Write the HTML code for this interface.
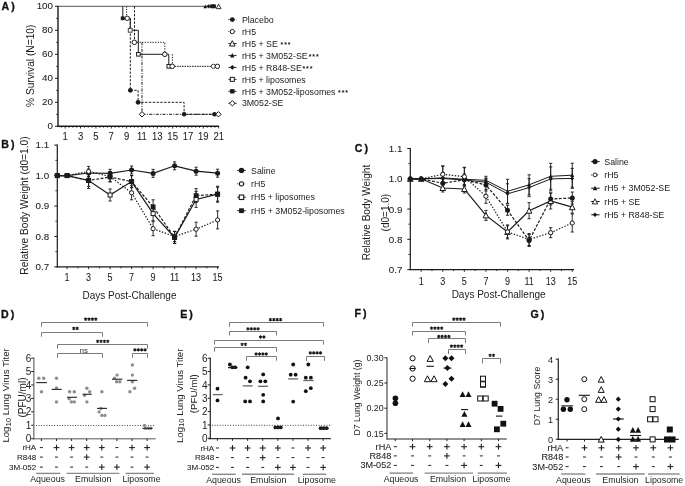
<!DOCTYPE html>
<html><head><meta charset="utf-8"><style>
html,body{margin:0;padding:0;background:#fff;}
svg{display:block;filter:blur(0.35px);}
text{font-family:"Liberation Sans", sans-serif;}
</style></head><body>
<svg width="685" height="486" viewBox="0 0 685 486">
<rect width="685" height="486" fill="#fff"/>
<text x="1.6" y="9.6" font-size="10.6" text-anchor="start" font-weight="bold" fill="#111" stroke="#111" stroke-width="0.3" letter-spacing="2.0">A)</text>
<line x1="58" y1="5.8" x2="58" y2="126.9" stroke="#1a1a1a" stroke-width="1.4" stroke-linecap="butt"/>
<line x1="57.3" y1="126.3" x2="219" y2="126.3" stroke="#1a1a1a" stroke-width="1.4" stroke-linecap="butt"/>
<line x1="55" y1="126.3" x2="58" y2="126.3" stroke="#1a1a1a" stroke-width="1" stroke-linecap="butt"/>
<text transform="translate(53 129.43) scale(1 1)" font-size="9.8" text-anchor="end" fill="#1a1a1a" stroke="#1a1a1a" stroke-width="0.06">0</text>
<line x1="55" y1="102.3" x2="58" y2="102.3" stroke="#1a1a1a" stroke-width="1" stroke-linecap="butt"/>
<text transform="translate(53 105.43) scale(1 1)" font-size="9.8" text-anchor="end" fill="#1a1a1a" stroke="#1a1a1a" stroke-width="0.06">20</text>
<line x1="55" y1="78.3" x2="58" y2="78.3" stroke="#1a1a1a" stroke-width="1" stroke-linecap="butt"/>
<text transform="translate(53 81.43) scale(1 1)" font-size="9.8" text-anchor="end" fill="#1a1a1a" stroke="#1a1a1a" stroke-width="0.06">40</text>
<line x1="55" y1="54.3" x2="58" y2="54.3" stroke="#1a1a1a" stroke-width="1" stroke-linecap="butt"/>
<text transform="translate(53 57.43) scale(1 1)" font-size="9.8" text-anchor="end" fill="#1a1a1a" stroke="#1a1a1a" stroke-width="0.06">60</text>
<line x1="55" y1="30.3" x2="58" y2="30.3" stroke="#1a1a1a" stroke-width="1" stroke-linecap="butt"/>
<text transform="translate(53 33.43) scale(1 1)" font-size="9.8" text-anchor="end" fill="#1a1a1a" stroke="#1a1a1a" stroke-width="0.06">80</text>
<line x1="55" y1="6.3" x2="58" y2="6.3" stroke="#1a1a1a" stroke-width="1" stroke-linecap="butt"/>
<text transform="translate(53 9.43) scale(1 1)" font-size="9.8" text-anchor="end" fill="#1a1a1a" stroke="#1a1a1a" stroke-width="0.06">100</text>
<line x1="56" y1="114.3" x2="58" y2="114.3" stroke="#1a1a1a" stroke-width="0.8" stroke-linecap="butt"/>
<line x1="56" y1="90.3" x2="58" y2="90.3" stroke="#1a1a1a" stroke-width="0.8" stroke-linecap="butt"/>
<line x1="56" y1="66.3" x2="58" y2="66.3" stroke="#1a1a1a" stroke-width="0.8" stroke-linecap="butt"/>
<line x1="56" y1="42.3" x2="58" y2="42.3" stroke="#1a1a1a" stroke-width="0.8" stroke-linecap="butt"/>
<line x1="56" y1="18.3" x2="58" y2="18.3" stroke="#1a1a1a" stroke-width="0.8" stroke-linecap="butt"/>
<line x1="61.36" y1="126.3" x2="61.36" y2="127.7" stroke="#1a1a1a" stroke-width="0.9" stroke-linecap="butt"/>
<line x1="65.2" y1="126.3" x2="65.2" y2="128.5" stroke="#1a1a1a" stroke-width="0.9" stroke-linecap="butt"/>
<line x1="69.04" y1="126.3" x2="69.04" y2="127.7" stroke="#1a1a1a" stroke-width="0.9" stroke-linecap="butt"/>
<line x1="72.88" y1="126.3" x2="72.88" y2="127.7" stroke="#1a1a1a" stroke-width="0.9" stroke-linecap="butt"/>
<line x1="76.71" y1="126.3" x2="76.71" y2="127.7" stroke="#1a1a1a" stroke-width="0.9" stroke-linecap="butt"/>
<line x1="80.55" y1="126.3" x2="80.55" y2="128.5" stroke="#1a1a1a" stroke-width="0.9" stroke-linecap="butt"/>
<line x1="84.39" y1="126.3" x2="84.39" y2="127.7" stroke="#1a1a1a" stroke-width="0.9" stroke-linecap="butt"/>
<line x1="88.22" y1="126.3" x2="88.22" y2="127.7" stroke="#1a1a1a" stroke-width="0.9" stroke-linecap="butt"/>
<line x1="92.06" y1="126.3" x2="92.06" y2="127.7" stroke="#1a1a1a" stroke-width="0.9" stroke-linecap="butt"/>
<line x1="95.9" y1="126.3" x2="95.9" y2="128.5" stroke="#1a1a1a" stroke-width="0.9" stroke-linecap="butt"/>
<line x1="99.74" y1="126.3" x2="99.74" y2="127.7" stroke="#1a1a1a" stroke-width="0.9" stroke-linecap="butt"/>
<line x1="103.58" y1="126.3" x2="103.58" y2="127.7" stroke="#1a1a1a" stroke-width="0.9" stroke-linecap="butt"/>
<line x1="107.41" y1="126.3" x2="107.41" y2="127.7" stroke="#1a1a1a" stroke-width="0.9" stroke-linecap="butt"/>
<line x1="111.25" y1="126.3" x2="111.25" y2="128.5" stroke="#1a1a1a" stroke-width="0.9" stroke-linecap="butt"/>
<line x1="115.09" y1="126.3" x2="115.09" y2="127.7" stroke="#1a1a1a" stroke-width="0.9" stroke-linecap="butt"/>
<line x1="118.93" y1="126.3" x2="118.93" y2="127.7" stroke="#1a1a1a" stroke-width="0.9" stroke-linecap="butt"/>
<line x1="122.76" y1="126.3" x2="122.76" y2="127.7" stroke="#1a1a1a" stroke-width="0.9" stroke-linecap="butt"/>
<line x1="126.6" y1="126.3" x2="126.6" y2="128.5" stroke="#1a1a1a" stroke-width="0.9" stroke-linecap="butt"/>
<line x1="130.44" y1="126.3" x2="130.44" y2="127.7" stroke="#1a1a1a" stroke-width="0.9" stroke-linecap="butt"/>
<line x1="134.28" y1="126.3" x2="134.28" y2="127.7" stroke="#1a1a1a" stroke-width="0.9" stroke-linecap="butt"/>
<line x1="138.11" y1="126.3" x2="138.11" y2="127.7" stroke="#1a1a1a" stroke-width="0.9" stroke-linecap="butt"/>
<line x1="141.95" y1="126.3" x2="141.95" y2="128.5" stroke="#1a1a1a" stroke-width="0.9" stroke-linecap="butt"/>
<line x1="145.79" y1="126.3" x2="145.79" y2="127.7" stroke="#1a1a1a" stroke-width="0.9" stroke-linecap="butt"/>
<line x1="149.62" y1="126.3" x2="149.62" y2="127.7" stroke="#1a1a1a" stroke-width="0.9" stroke-linecap="butt"/>
<line x1="153.46" y1="126.3" x2="153.46" y2="127.7" stroke="#1a1a1a" stroke-width="0.9" stroke-linecap="butt"/>
<line x1="157.3" y1="126.3" x2="157.3" y2="128.5" stroke="#1a1a1a" stroke-width="0.9" stroke-linecap="butt"/>
<line x1="161.14" y1="126.3" x2="161.14" y2="127.7" stroke="#1a1a1a" stroke-width="0.9" stroke-linecap="butt"/>
<line x1="164.97" y1="126.3" x2="164.97" y2="127.7" stroke="#1a1a1a" stroke-width="0.9" stroke-linecap="butt"/>
<line x1="168.81" y1="126.3" x2="168.81" y2="127.7" stroke="#1a1a1a" stroke-width="0.9" stroke-linecap="butt"/>
<line x1="172.65" y1="126.3" x2="172.65" y2="128.5" stroke="#1a1a1a" stroke-width="0.9" stroke-linecap="butt"/>
<line x1="176.49" y1="126.3" x2="176.49" y2="127.7" stroke="#1a1a1a" stroke-width="0.9" stroke-linecap="butt"/>
<line x1="180.32" y1="126.3" x2="180.32" y2="127.7" stroke="#1a1a1a" stroke-width="0.9" stroke-linecap="butt"/>
<line x1="184.16" y1="126.3" x2="184.16" y2="127.7" stroke="#1a1a1a" stroke-width="0.9" stroke-linecap="butt"/>
<line x1="188" y1="126.3" x2="188" y2="128.5" stroke="#1a1a1a" stroke-width="0.9" stroke-linecap="butt"/>
<line x1="191.84" y1="126.3" x2="191.84" y2="127.7" stroke="#1a1a1a" stroke-width="0.9" stroke-linecap="butt"/>
<line x1="195.68" y1="126.3" x2="195.68" y2="127.7" stroke="#1a1a1a" stroke-width="0.9" stroke-linecap="butt"/>
<line x1="199.51" y1="126.3" x2="199.51" y2="127.7" stroke="#1a1a1a" stroke-width="0.9" stroke-linecap="butt"/>
<line x1="203.35" y1="126.3" x2="203.35" y2="128.5" stroke="#1a1a1a" stroke-width="0.9" stroke-linecap="butt"/>
<line x1="207.19" y1="126.3" x2="207.19" y2="127.7" stroke="#1a1a1a" stroke-width="0.9" stroke-linecap="butt"/>
<line x1="211.02" y1="126.3" x2="211.02" y2="127.7" stroke="#1a1a1a" stroke-width="0.9" stroke-linecap="butt"/>
<line x1="214.86" y1="126.3" x2="214.86" y2="127.7" stroke="#1a1a1a" stroke-width="0.9" stroke-linecap="butt"/>
<line x1="218.7" y1="126.3" x2="218.7" y2="128.5" stroke="#1a1a1a" stroke-width="0.9" stroke-linecap="butt"/>
<text transform="translate(65.2 139.8) scale(0.95 1)" font-size="10" text-anchor="middle" fill="#1a1a1a" stroke="#1a1a1a" stroke-width="0.06">1</text>
<text transform="translate(80.55 139.8) scale(0.95 1)" font-size="10" text-anchor="middle" fill="#1a1a1a" stroke="#1a1a1a" stroke-width="0.06">3</text>
<text transform="translate(95.9 139.8) scale(0.95 1)" font-size="10" text-anchor="middle" fill="#1a1a1a" stroke="#1a1a1a" stroke-width="0.06">5</text>
<text transform="translate(111.25 139.8) scale(0.95 1)" font-size="10" text-anchor="middle" fill="#1a1a1a" stroke="#1a1a1a" stroke-width="0.06">7</text>
<text transform="translate(126.6 139.8) scale(0.95 1)" font-size="10" text-anchor="middle" fill="#1a1a1a" stroke="#1a1a1a" stroke-width="0.06">9</text>
<text transform="translate(141.95 139.8) scale(0.95 1)" font-size="10" text-anchor="middle" fill="#1a1a1a" stroke="#1a1a1a" stroke-width="0.06">11</text>
<text transform="translate(157.3 139.8) scale(0.95 1)" font-size="10" text-anchor="middle" fill="#1a1a1a" stroke="#1a1a1a" stroke-width="0.06">13</text>
<text transform="translate(172.65 139.8) scale(0.95 1)" font-size="10" text-anchor="middle" fill="#1a1a1a" stroke="#1a1a1a" stroke-width="0.06">15</text>
<text transform="translate(188 139.8) scale(0.95 1)" font-size="10" text-anchor="middle" fill="#1a1a1a" stroke="#1a1a1a" stroke-width="0.06">17</text>
<text transform="translate(203.35 139.8) scale(0.95 1)" font-size="10" text-anchor="middle" fill="#1a1a1a" stroke="#1a1a1a" stroke-width="0.06">19</text>
<text transform="translate(218.7 139.8) scale(0.95 1)" font-size="10" text-anchor="middle" fill="#1a1a1a" stroke="#1a1a1a" stroke-width="0.06">21</text>
<text x="34.2" y="65.8" font-size="10.2" text-anchor="middle" font-weight="normal" fill="#1a1a1a" stroke="#1a1a1a" stroke-width="0" transform="rotate(-90 34.2 65.8)">% Survival (N=10)</text>
<line x1="58" y1="6.3" x2="216" y2="6.3" stroke="#444" stroke-width="0.9" stroke-linecap="butt"/>
<polyline points="122.8,6.3 122.8,18.3 130.2,18.3 130.2,30.3 138.3,30.3 138.3,54.3 168.8,54.3 168.8,66.3 172,66.3" fill="none" stroke="#1a1a1a" stroke-width="1" stroke-linejoin="miter"/>
<line x1="172" y1="66.3" x2="214" y2="66.3" stroke="#1a1a1a" stroke-width="1" stroke-dasharray="1.6 0.9" stroke-linecap="butt"/>
<polyline points="126.6,6.3 126.6,18.3" fill="none" stroke="#1a1a1a" stroke-width="1" stroke-dasharray="1.3 1.3" stroke-linejoin="miter"/>
<polyline points="134.3,42.3 164.8,42.3 164.8,54.3" fill="none" stroke="#1a1a1a" stroke-width="1" stroke-dasharray="1.3 1.3" stroke-linejoin="miter"/>
<polyline points="172.4,54.3 172.4,66.3" fill="none" stroke="#1a1a1a" stroke-width="1" stroke-dasharray="1.3 1.3" stroke-linejoin="miter"/>
<polyline points="134.5,6.3 134.5,42.3" fill="none" stroke="#1a1a1a" stroke-width="1" stroke-dasharray="2.4 1.4" stroke-linejoin="miter"/>
<polyline points="130.3,18.3 130.3,90.3 138.1,90.3 138.1,102.3 184.1,102.3 184.1,114.3 214.5,114.3" fill="none" stroke="#1a1a1a" stroke-width="1" stroke-dasharray="2.4 1.4" stroke-linejoin="miter"/>
<polyline points="142,42.3 142,114.3 218,114.3" fill="none" stroke="#1a1a1a" stroke-width="1" stroke-dasharray="3 1.3 1 1.3" stroke-linejoin="miter"/>
<rect x="120.8" y="16.4" width="3.8" height="3.8" fill="#1a1a1a"/>
<circle cx="127.2" cy="18.3" r="2.2" fill="#fff" stroke="#1a1a1a" stroke-width="1"/>
<rect x="128.3" y="28.4" width="3.8" height="3.8" fill="#fff" stroke="#444" stroke-width="1"/>
<circle cx="134.3" cy="42.3" r="2.3" fill="#fff" stroke="#1a1a1a" stroke-width="1"/>
<rect x="136.6" y="52.5" width="3.6" height="3.6" fill="#fff" stroke="#1a1a1a" stroke-width="1"/>
<circle cx="164.8" cy="54.3" r="2.3" fill="#fff" stroke="#1a1a1a" stroke-width="1"/>
<rect x="167" y="64.5" width="3.6" height="3.6" fill="#fff" stroke="#1a1a1a" stroke-width="1"/>
<circle cx="172.2" cy="66.3" r="2.3" fill="#fff" stroke="#1a1a1a" stroke-width="1"/>
<circle cx="213.4" cy="66.3" r="2.1" fill="#fff" stroke="#444" stroke-width="1"/>
<circle cx="217.4" cy="66.3" r="2.2" fill="#fff" stroke="#1a1a1a" stroke-width="1"/>
<circle cx="130.4" cy="90.3" r="2.4" fill="#1a1a1a"/>
<circle cx="138.1" cy="102.3" r="2.4" fill="#1a1a1a"/>
<circle cx="184.1" cy="114.3" r="2.3" fill="#1a1a1a"/>
<circle cx="214.5" cy="114.3" r="2.3" fill="#1a1a1a"/>
<polygon points="142,111.6 144.7,114.3 142,117 139.3,114.3" fill="#fff" stroke="#1a1a1a" stroke-width="1"/>
<polygon points="218.5,111.6 221.2,114.3 218.5,117 215.8,114.3" fill="#fff" stroke="#1a1a1a" stroke-width="1"/>
<polygon points="205.3,4.49 203.4,8.21 207.2,8.21" fill="#1a1a1a"/>
<polygon points="208.6,4.2 210.7,6.3 208.6,8.4 206.5,6.3" fill="#1a1a1a"/>
<rect x="210.1" y="4.4" width="3.8" height="3.8" fill="#1a1a1a"/>
<rect x="212.1" y="4.4" width="3.8" height="3.8" fill="#1a1a1a"/>
<polygon points="218.6,4.04 216.2,8.66 221,8.66" fill="#fff" stroke="#1a1a1a" stroke-width="0.9" stroke-linejoin="miter"/>
<line x1="228.4" y1="19.6" x2="236.6" y2="19.6" stroke="#1a1a1a" stroke-width="0.9" stroke-dasharray="1.3 1.3" stroke-linecap="butt"/>
<circle cx="232.3" cy="19.6" r="2.4" fill="#1a1a1a"/>
<text x="241.9" y="22.8" font-size="8.8" text-anchor="start" font-weight="normal" fill="#1a1a1a" stroke="#1a1a1a" stroke-width="0">Placebo</text>
<line x1="228.4" y1="31.55" x2="236.6" y2="31.55" stroke="#1a1a1a" stroke-width="0.9" stroke-dasharray="1 2" stroke-linecap="butt"/>
<circle cx="232.3" cy="31.55" r="2.1" fill="#fff" stroke="#1a1a1a" stroke-width="1"/>
<text x="241.9" y="34.75" font-size="8.8" text-anchor="start" font-weight="normal" fill="#1a1a1a" stroke="#1a1a1a" stroke-width="0">rH5</text>
<line x1="228.4" y1="43.5" x2="236.6" y2="43.5" stroke="#1a1a1a" stroke-width="0.9" stroke-linecap="butt"/>
<polygon points="232.3,40.68 229.5,46.02 235.1,46.02" fill="#fff" stroke="#1a1a1a" stroke-width="1" stroke-linejoin="miter"/>
<text x="241.9" y="46.7" font-size="8.8" text-anchor="start" font-weight="normal" fill="#1a1a1a" stroke="#1a1a1a" stroke-width="0">rH5 + SE</text>
<text x="280.6" y="46.7" font-size="7" font-weight="bold" fill="#1a1a1a" letter-spacing="0.9">***</text>
<line x1="228.4" y1="55.45" x2="236.6" y2="55.45" stroke="#1a1a1a" stroke-width="0.9" stroke-linecap="butt"/>
<polygon points="232.3,53.08 230,57.52 234.6,57.52" fill="#1a1a1a"/>
<text x="241.9" y="58.65" font-size="8.8" text-anchor="start" font-weight="normal" fill="#1a1a1a" stroke="#1a1a1a" stroke-width="0">rH5 + 3M052-SE</text>
<text x="308.7" y="58.65" font-size="7" font-weight="bold" fill="#1a1a1a" letter-spacing="0.9">***</text>
<line x1="228.4" y1="67.4" x2="236.6" y2="67.4" stroke="#1a1a1a" stroke-width="0.9" stroke-linecap="butt"/>
<polygon points="232.3,65 234.7,67.4 232.3,69.8 229.9,67.4" fill="#1a1a1a"/>
<text x="241.9" y="70.6" font-size="8.8" text-anchor="start" font-weight="normal" fill="#1a1a1a" stroke="#1a1a1a" stroke-width="0">rH5 + R848-SE</text>
<text x="302.4" y="70.6" font-size="7" font-weight="bold" fill="#1a1a1a" letter-spacing="0.9">***</text>
<line x1="228.4" y1="79.35" x2="236.6" y2="79.35" stroke="#1a1a1a" stroke-width="0.9" stroke-linecap="butt"/>
<rect x="230.3" y="77.35" width="4" height="4" fill="#fff" stroke="#1a1a1a" stroke-width="1"/>
<text x="241.9" y="82.55" font-size="8.8" text-anchor="start" font-weight="normal" fill="#1a1a1a" stroke="#1a1a1a" stroke-width="0">rH5 + liposomes</text>
<line x1="228.4" y1="91.3" x2="236.6" y2="91.3" stroke="#1a1a1a" stroke-width="0.9" stroke-linecap="butt"/>
<rect x="230.1" y="89.1" width="4.4" height="4.4" fill="#1a1a1a"/>
<text x="241.9" y="94.5" font-size="8.8" text-anchor="start" font-weight="normal" fill="#1a1a1a" stroke="#1a1a1a" stroke-width="0">rH5 + 3M052-liposomes</text>
<text x="338.1" y="94.5" font-size="7" font-weight="bold" fill="#1a1a1a" letter-spacing="0.9">***</text>
<line x1="228.4" y1="103.25" x2="236.6" y2="103.25" stroke="#1a1a1a" stroke-width="0.9" stroke-linecap="butt"/>
<polygon points="232.3,100.55 235,103.25 232.3,105.95 229.6,103.25" fill="#fff" stroke="#1a1a1a" stroke-width="1"/>
<text x="241.9" y="106.45" font-size="8.8" text-anchor="start" font-weight="normal" fill="#1a1a1a" stroke="#1a1a1a" stroke-width="0">3M052-SE</text>
<text x="1.3" y="148.1" font-size="10.6" text-anchor="start" font-weight="bold" fill="#111" stroke="#111" stroke-width="0.3" letter-spacing="2.0">B)</text>
<line x1="57.3" y1="144.6" x2="57.3" y2="267.5" stroke="#1a1a1a" stroke-width="1.2" stroke-linecap="butt"/>
<line x1="56.7" y1="266.9" x2="219" y2="266.9" stroke="#1a1a1a" stroke-width="1.2" stroke-linecap="butt"/>
<line x1="54.3" y1="266.9" x2="57.3" y2="266.9" stroke="#1a1a1a" stroke-width="1" stroke-linecap="butt"/>
<text transform="translate(49.2 270.23) scale(1 1)" font-size="9.8" text-anchor="end" fill="#1a1a1a" stroke="#1a1a1a" stroke-width="0.06">0.7</text>
<line x1="54.3" y1="236.45" x2="57.3" y2="236.45" stroke="#1a1a1a" stroke-width="1" stroke-linecap="butt"/>
<text transform="translate(49.2 239.78) scale(1 1)" font-size="9.8" text-anchor="end" fill="#1a1a1a" stroke="#1a1a1a" stroke-width="0.06">0.8</text>
<line x1="54.3" y1="206" x2="57.3" y2="206" stroke="#1a1a1a" stroke-width="1" stroke-linecap="butt"/>
<text transform="translate(49.2 209.33) scale(1 1)" font-size="9.8" text-anchor="end" fill="#1a1a1a" stroke="#1a1a1a" stroke-width="0.06">0.9</text>
<line x1="54.3" y1="175.55" x2="57.3" y2="175.55" stroke="#1a1a1a" stroke-width="1" stroke-linecap="butt"/>
<text transform="translate(49.2 178.88) scale(1 1)" font-size="9.8" text-anchor="end" fill="#1a1a1a" stroke="#1a1a1a" stroke-width="0.06">1.0</text>
<line x1="54.3" y1="145.1" x2="57.3" y2="145.1" stroke="#1a1a1a" stroke-width="1" stroke-linecap="butt"/>
<text transform="translate(49.2 148.43) scale(1 1)" font-size="9.8" text-anchor="end" fill="#1a1a1a" stroke="#1a1a1a" stroke-width="0.06">1.1</text>
<line x1="55.3" y1="251.67" x2="57.3" y2="251.67" stroke="#1a1a1a" stroke-width="0.8" stroke-linecap="butt"/>
<line x1="55.3" y1="221.22" x2="57.3" y2="221.22" stroke="#1a1a1a" stroke-width="0.8" stroke-linecap="butt"/>
<line x1="55.3" y1="190.77" x2="57.3" y2="190.77" stroke="#1a1a1a" stroke-width="0.8" stroke-linecap="butt"/>
<line x1="55.3" y1="160.32" x2="57.3" y2="160.32" stroke="#1a1a1a" stroke-width="0.8" stroke-linecap="butt"/>
<line x1="67.1" y1="266.9" x2="67.1" y2="269.1" stroke="#1a1a1a" stroke-width="0.9" stroke-linecap="butt"/>
<line x1="77.85" y1="266.9" x2="77.85" y2="268.3" stroke="#1a1a1a" stroke-width="0.9" stroke-linecap="butt"/>
<line x1="88.6" y1="266.9" x2="88.6" y2="269.1" stroke="#1a1a1a" stroke-width="0.9" stroke-linecap="butt"/>
<line x1="99.35" y1="266.9" x2="99.35" y2="268.3" stroke="#1a1a1a" stroke-width="0.9" stroke-linecap="butt"/>
<line x1="110.1" y1="266.9" x2="110.1" y2="269.1" stroke="#1a1a1a" stroke-width="0.9" stroke-linecap="butt"/>
<line x1="120.85" y1="266.9" x2="120.85" y2="268.3" stroke="#1a1a1a" stroke-width="0.9" stroke-linecap="butt"/>
<line x1="131.6" y1="266.9" x2="131.6" y2="269.1" stroke="#1a1a1a" stroke-width="0.9" stroke-linecap="butt"/>
<line x1="142.35" y1="266.9" x2="142.35" y2="268.3" stroke="#1a1a1a" stroke-width="0.9" stroke-linecap="butt"/>
<line x1="153.1" y1="266.9" x2="153.1" y2="269.1" stroke="#1a1a1a" stroke-width="0.9" stroke-linecap="butt"/>
<line x1="163.85" y1="266.9" x2="163.85" y2="268.3" stroke="#1a1a1a" stroke-width="0.9" stroke-linecap="butt"/>
<line x1="174.6" y1="266.9" x2="174.6" y2="269.1" stroke="#1a1a1a" stroke-width="0.9" stroke-linecap="butt"/>
<line x1="185.35" y1="266.9" x2="185.35" y2="268.3" stroke="#1a1a1a" stroke-width="0.9" stroke-linecap="butt"/>
<line x1="196.1" y1="266.9" x2="196.1" y2="269.1" stroke="#1a1a1a" stroke-width="0.9" stroke-linecap="butt"/>
<line x1="206.85" y1="266.9" x2="206.85" y2="268.3" stroke="#1a1a1a" stroke-width="0.9" stroke-linecap="butt"/>
<line x1="217.6" y1="266.9" x2="217.6" y2="269.1" stroke="#1a1a1a" stroke-width="0.9" stroke-linecap="butt"/>
<text transform="translate(67.1 281) scale(0.9 1)" font-size="10" text-anchor="middle" fill="#1a1a1a" stroke="#1a1a1a" stroke-width="0.06">1</text>
<text transform="translate(88.6 281) scale(0.9 1)" font-size="10" text-anchor="middle" fill="#1a1a1a" stroke="#1a1a1a" stroke-width="0.06">3</text>
<text transform="translate(110.1 281) scale(0.9 1)" font-size="10" text-anchor="middle" fill="#1a1a1a" stroke="#1a1a1a" stroke-width="0.06">5</text>
<text transform="translate(131.6 281) scale(0.9 1)" font-size="10" text-anchor="middle" fill="#1a1a1a" stroke="#1a1a1a" stroke-width="0.06">7</text>
<text transform="translate(153.1 281) scale(0.9 1)" font-size="10" text-anchor="middle" fill="#1a1a1a" stroke="#1a1a1a" stroke-width="0.06">9</text>
<text transform="translate(174.6 281) scale(0.9 1)" font-size="10" text-anchor="middle" fill="#1a1a1a" stroke="#1a1a1a" stroke-width="0.06">11</text>
<text transform="translate(196.1 281) scale(0.9 1)" font-size="10" text-anchor="middle" fill="#1a1a1a" stroke="#1a1a1a" stroke-width="0.06">13</text>
<text transform="translate(217.6 281) scale(0.9 1)" font-size="10" text-anchor="middle" fill="#1a1a1a" stroke="#1a1a1a" stroke-width="0.06">15</text>
<text x="129.5" y="298.8" font-size="10" text-anchor="middle" font-weight="normal" fill="#1a1a1a" stroke="#1a1a1a" stroke-width="0">Days Post-Challenge</text>
<text x="28" y="205.5" font-size="10.2" text-anchor="middle" font-weight="normal" fill="#1a1a1a" stroke="#1a1a1a" stroke-width="0" transform="rotate(-90 28 205.5)">Relative Body Weight (d0=1.0)</text>
<line x1="88.6" y1="169" x2="88.6" y2="177" stroke="#1a1a1a" stroke-width="0.9" stroke-linecap="butt"/>
<line x1="87" y1="169" x2="90.2" y2="169" stroke="#1a1a1a" stroke-width="0.9" stroke-linecap="butt"/>
<line x1="87" y1="177" x2="90.2" y2="177" stroke="#1a1a1a" stroke-width="0.9" stroke-linecap="butt"/>
<line x1="110.1" y1="169.3" x2="110.1" y2="177.3" stroke="#1a1a1a" stroke-width="0.9" stroke-linecap="butt"/>
<line x1="108.5" y1="169.3" x2="111.7" y2="169.3" stroke="#1a1a1a" stroke-width="0.9" stroke-linecap="butt"/>
<line x1="108.5" y1="177.3" x2="111.7" y2="177.3" stroke="#1a1a1a" stroke-width="0.9" stroke-linecap="butt"/>
<line x1="131.6" y1="166" x2="131.6" y2="174" stroke="#1a1a1a" stroke-width="0.9" stroke-linecap="butt"/>
<line x1="130" y1="166" x2="133.2" y2="166" stroke="#1a1a1a" stroke-width="0.9" stroke-linecap="butt"/>
<line x1="130" y1="174" x2="133.2" y2="174" stroke="#1a1a1a" stroke-width="0.9" stroke-linecap="butt"/>
<line x1="153.1" y1="169.4" x2="153.1" y2="177.4" stroke="#1a1a1a" stroke-width="0.9" stroke-linecap="butt"/>
<line x1="151.5" y1="169.4" x2="154.7" y2="169.4" stroke="#1a1a1a" stroke-width="0.9" stroke-linecap="butt"/>
<line x1="151.5" y1="177.4" x2="154.7" y2="177.4" stroke="#1a1a1a" stroke-width="0.9" stroke-linecap="butt"/>
<line x1="174.6" y1="161.8" x2="174.6" y2="169.8" stroke="#1a1a1a" stroke-width="0.9" stroke-linecap="butt"/>
<line x1="173" y1="161.8" x2="176.2" y2="161.8" stroke="#1a1a1a" stroke-width="0.9" stroke-linecap="butt"/>
<line x1="173" y1="169.8" x2="176.2" y2="169.8" stroke="#1a1a1a" stroke-width="0.9" stroke-linecap="butt"/>
<line x1="196.1" y1="167.2" x2="196.1" y2="175.2" stroke="#1a1a1a" stroke-width="0.9" stroke-linecap="butt"/>
<line x1="194.5" y1="167.2" x2="197.7" y2="167.2" stroke="#1a1a1a" stroke-width="0.9" stroke-linecap="butt"/>
<line x1="194.5" y1="175.2" x2="197.7" y2="175.2" stroke="#1a1a1a" stroke-width="0.9" stroke-linecap="butt"/>
<line x1="217.6" y1="169.2" x2="217.6" y2="177.2" stroke="#1a1a1a" stroke-width="0.9" stroke-linecap="butt"/>
<line x1="216" y1="169.2" x2="219.2" y2="169.2" stroke="#1a1a1a" stroke-width="0.9" stroke-linecap="butt"/>
<line x1="216" y1="177.2" x2="219.2" y2="177.2" stroke="#1a1a1a" stroke-width="0.9" stroke-linecap="butt"/>
<line x1="88.6" y1="166.4" x2="88.6" y2="176.4" stroke="#1a1a1a" stroke-width="0.9" stroke-linecap="butt"/>
<line x1="87" y1="166.4" x2="90.2" y2="166.4" stroke="#1a1a1a" stroke-width="0.9" stroke-linecap="butt"/>
<line x1="87" y1="176.4" x2="90.2" y2="176.4" stroke="#1a1a1a" stroke-width="0.9" stroke-linecap="butt"/>
<line x1="110.1" y1="171.5" x2="110.1" y2="181.5" stroke="#1a1a1a" stroke-width="0.9" stroke-linecap="butt"/>
<line x1="108.5" y1="171.5" x2="111.7" y2="171.5" stroke="#1a1a1a" stroke-width="0.9" stroke-linecap="butt"/>
<line x1="108.5" y1="181.5" x2="111.7" y2="181.5" stroke="#1a1a1a" stroke-width="0.9" stroke-linecap="butt"/>
<line x1="131.6" y1="185.8" x2="131.6" y2="199.8" stroke="#1a1a1a" stroke-width="0.9" stroke-linecap="butt"/>
<line x1="130" y1="185.8" x2="133.2" y2="185.8" stroke="#1a1a1a" stroke-width="0.9" stroke-linecap="butt"/>
<line x1="130" y1="199.8" x2="133.2" y2="199.8" stroke="#1a1a1a" stroke-width="0.9" stroke-linecap="butt"/>
<line x1="153.1" y1="221.7" x2="153.1" y2="235.7" stroke="#1a1a1a" stroke-width="0.9" stroke-linecap="butt"/>
<line x1="151.5" y1="221.7" x2="154.7" y2="221.7" stroke="#1a1a1a" stroke-width="0.9" stroke-linecap="butt"/>
<line x1="151.5" y1="235.7" x2="154.7" y2="235.7" stroke="#1a1a1a" stroke-width="0.9" stroke-linecap="butt"/>
<line x1="174.6" y1="231.5" x2="174.6" y2="241.5" stroke="#1a1a1a" stroke-width="0.9" stroke-linecap="butt"/>
<line x1="173" y1="231.5" x2="176.2" y2="231.5" stroke="#1a1a1a" stroke-width="0.9" stroke-linecap="butt"/>
<line x1="173" y1="241.5" x2="176.2" y2="241.5" stroke="#1a1a1a" stroke-width="0.9" stroke-linecap="butt"/>
<line x1="196.1" y1="222.2" x2="196.1" y2="236.2" stroke="#1a1a1a" stroke-width="0.9" stroke-linecap="butt"/>
<line x1="194.5" y1="222.2" x2="197.7" y2="222.2" stroke="#1a1a1a" stroke-width="0.9" stroke-linecap="butt"/>
<line x1="194.5" y1="236.2" x2="197.7" y2="236.2" stroke="#1a1a1a" stroke-width="0.9" stroke-linecap="butt"/>
<line x1="217.6" y1="210.9" x2="217.6" y2="228.9" stroke="#1a1a1a" stroke-width="0.9" stroke-linecap="butt"/>
<line x1="216" y1="210.9" x2="219.2" y2="210.9" stroke="#1a1a1a" stroke-width="0.9" stroke-linecap="butt"/>
<line x1="216" y1="228.9" x2="219.2" y2="228.9" stroke="#1a1a1a" stroke-width="0.9" stroke-linecap="butt"/>
<line x1="88.6" y1="172.5" x2="88.6" y2="188.5" stroke="#1a1a1a" stroke-width="0.9" stroke-linecap="butt"/>
<line x1="87" y1="172.5" x2="90.2" y2="172.5" stroke="#1a1a1a" stroke-width="0.9" stroke-linecap="butt"/>
<line x1="87" y1="188.5" x2="90.2" y2="188.5" stroke="#1a1a1a" stroke-width="0.9" stroke-linecap="butt"/>
<line x1="110.1" y1="189" x2="110.1" y2="201" stroke="#1a1a1a" stroke-width="0.9" stroke-linecap="butt"/>
<line x1="108.5" y1="189" x2="111.7" y2="189" stroke="#1a1a1a" stroke-width="0.9" stroke-linecap="butt"/>
<line x1="108.5" y1="201" x2="111.7" y2="201" stroke="#1a1a1a" stroke-width="0.9" stroke-linecap="butt"/>
<line x1="131.6" y1="175.6" x2="131.6" y2="187.6" stroke="#1a1a1a" stroke-width="0.9" stroke-linecap="butt"/>
<line x1="130" y1="175.6" x2="133.2" y2="175.6" stroke="#1a1a1a" stroke-width="0.9" stroke-linecap="butt"/>
<line x1="130" y1="187.6" x2="133.2" y2="187.6" stroke="#1a1a1a" stroke-width="0.9" stroke-linecap="butt"/>
<line x1="153.1" y1="206.6" x2="153.1" y2="220.6" stroke="#1a1a1a" stroke-width="0.9" stroke-linecap="butt"/>
<line x1="151.5" y1="206.6" x2="154.7" y2="206.6" stroke="#1a1a1a" stroke-width="0.9" stroke-linecap="butt"/>
<line x1="151.5" y1="220.6" x2="154.7" y2="220.6" stroke="#1a1a1a" stroke-width="0.9" stroke-linecap="butt"/>
<line x1="174.6" y1="231.4" x2="174.6" y2="243.4" stroke="#1a1a1a" stroke-width="0.9" stroke-linecap="butt"/>
<line x1="173" y1="231.4" x2="176.2" y2="231.4" stroke="#1a1a1a" stroke-width="0.9" stroke-linecap="butt"/>
<line x1="173" y1="243.4" x2="176.2" y2="243.4" stroke="#1a1a1a" stroke-width="0.9" stroke-linecap="butt"/>
<line x1="196.1" y1="191.4" x2="196.1" y2="207.4" stroke="#1a1a1a" stroke-width="0.9" stroke-linecap="butt"/>
<line x1="194.5" y1="191.4" x2="197.7" y2="191.4" stroke="#1a1a1a" stroke-width="0.9" stroke-linecap="butt"/>
<line x1="194.5" y1="207.4" x2="197.7" y2="207.4" stroke="#1a1a1a" stroke-width="0.9" stroke-linecap="butt"/>
<line x1="217.6" y1="186.2" x2="217.6" y2="202.2" stroke="#1a1a1a" stroke-width="0.9" stroke-linecap="butt"/>
<line x1="216" y1="186.2" x2="219.2" y2="186.2" stroke="#1a1a1a" stroke-width="0.9" stroke-linecap="butt"/>
<line x1="216" y1="202.2" x2="219.2" y2="202.2" stroke="#1a1a1a" stroke-width="0.9" stroke-linecap="butt"/>
<line x1="88.6" y1="174.5" x2="88.6" y2="186.5" stroke="#1a1a1a" stroke-width="0.9" stroke-linecap="butt"/>
<line x1="87" y1="174.5" x2="90.2" y2="174.5" stroke="#1a1a1a" stroke-width="0.9" stroke-linecap="butt"/>
<line x1="87" y1="186.5" x2="90.2" y2="186.5" stroke="#1a1a1a" stroke-width="0.9" stroke-linecap="butt"/>
<line x1="110.1" y1="172" x2="110.1" y2="182" stroke="#1a1a1a" stroke-width="0.9" stroke-linecap="butt"/>
<line x1="108.5" y1="172" x2="111.7" y2="172" stroke="#1a1a1a" stroke-width="0.9" stroke-linecap="butt"/>
<line x1="108.5" y1="182" x2="111.7" y2="182" stroke="#1a1a1a" stroke-width="0.9" stroke-linecap="butt"/>
<line x1="131.6" y1="175.6" x2="131.6" y2="187.6" stroke="#1a1a1a" stroke-width="0.9" stroke-linecap="butt"/>
<line x1="130" y1="175.6" x2="133.2" y2="175.6" stroke="#1a1a1a" stroke-width="0.9" stroke-linecap="butt"/>
<line x1="130" y1="187.6" x2="133.2" y2="187.6" stroke="#1a1a1a" stroke-width="0.9" stroke-linecap="butt"/>
<line x1="153.1" y1="199.8" x2="153.1" y2="213.8" stroke="#1a1a1a" stroke-width="0.9" stroke-linecap="butt"/>
<line x1="151.5" y1="199.8" x2="154.7" y2="199.8" stroke="#1a1a1a" stroke-width="0.9" stroke-linecap="butt"/>
<line x1="151.5" y1="213.8" x2="154.7" y2="213.8" stroke="#1a1a1a" stroke-width="0.9" stroke-linecap="butt"/>
<line x1="174.6" y1="231.4" x2="174.6" y2="243.4" stroke="#1a1a1a" stroke-width="0.9" stroke-linecap="butt"/>
<line x1="173" y1="231.4" x2="176.2" y2="231.4" stroke="#1a1a1a" stroke-width="0.9" stroke-linecap="butt"/>
<line x1="173" y1="243.4" x2="176.2" y2="243.4" stroke="#1a1a1a" stroke-width="0.9" stroke-linecap="butt"/>
<line x1="196.1" y1="188.6" x2="196.1" y2="202.6" stroke="#1a1a1a" stroke-width="0.9" stroke-linecap="butt"/>
<line x1="194.5" y1="188.6" x2="197.7" y2="188.6" stroke="#1a1a1a" stroke-width="0.9" stroke-linecap="butt"/>
<line x1="194.5" y1="202.6" x2="197.7" y2="202.6" stroke="#1a1a1a" stroke-width="0.9" stroke-linecap="butt"/>
<line x1="217.6" y1="187.2" x2="217.6" y2="201.2" stroke="#1a1a1a" stroke-width="0.9" stroke-linecap="butt"/>
<line x1="216" y1="187.2" x2="219.2" y2="187.2" stroke="#1a1a1a" stroke-width="0.9" stroke-linecap="butt"/>
<line x1="216" y1="201.2" x2="219.2" y2="201.2" stroke="#1a1a1a" stroke-width="0.9" stroke-linecap="butt"/>
<polyline points="57.3,175.6 67.1,175.6 88.6,171.4 110.1,176.5 131.6,192.8 153.1,228.7 174.6,236.5 196.1,229.2 217.6,219.9" fill="none" stroke="#1a1a1a" stroke-width="1.2" stroke-dasharray="1.4 1.6" stroke-linejoin="miter"/>
<polyline points="57.3,175.6 67.1,175.6 88.6,180.5 110.1,177 131.6,181.6 153.1,206.8 174.6,237.4 196.1,195.6 217.6,194.2" fill="none" stroke="#1a1a1a" stroke-width="1.2" stroke-dasharray="2.8 1.6" stroke-linejoin="miter"/>
<polyline points="57.3,175.6 67.1,175.6 88.6,180.5 110.1,195 131.6,181.6 153.1,213.6 174.6,237.4 196.1,199.4 217.6,194.2" fill="none" stroke="#1a1a1a" stroke-width="1.2" stroke-linejoin="miter"/>
<polyline points="57.3,175.6 67.1,175.6 88.6,173 110.1,173.3 131.6,170 153.1,173.4 174.6,165.8 196.1,171.2 217.6,173.2" fill="none" stroke="#1a1a1a" stroke-width="1.2" stroke-linejoin="miter"/>
<circle cx="110.1" cy="176.5" r="2.1" fill="#fff" stroke="#1a1a1a" stroke-width="1"/>
<circle cx="131.6" cy="192.8" r="2.1" fill="#fff" stroke="#1a1a1a" stroke-width="1"/>
<circle cx="153.1" cy="228.7" r="2.1" fill="#fff" stroke="#1a1a1a" stroke-width="1"/>
<circle cx="174.6" cy="236.5" r="2.1" fill="#fff" stroke="#1a1a1a" stroke-width="1"/>
<circle cx="196.1" cy="229.2" r="2.1" fill="#fff" stroke="#1a1a1a" stroke-width="1"/>
<circle cx="217.6" cy="219.9" r="2.1" fill="#fff" stroke="#1a1a1a" stroke-width="1"/>
<rect x="55.3" y="173.6" width="4" height="4" fill="#fff" stroke="#1a1a1a" stroke-width="1"/>
<rect x="65.1" y="173.6" width="4" height="4" fill="#fff" stroke="#1a1a1a" stroke-width="1"/>
<rect x="86.6" y="178.5" width="4" height="4" fill="#fff" stroke="#1a1a1a" stroke-width="1"/>
<rect x="108.1" y="193" width="4" height="4" fill="#fff" stroke="#1a1a1a" stroke-width="1"/>
<rect x="129.6" y="179.6" width="4" height="4" fill="#fff" stroke="#1a1a1a" stroke-width="1"/>
<rect x="151.1" y="211.6" width="4" height="4" fill="#fff" stroke="#1a1a1a" stroke-width="1"/>
<rect x="172.6" y="235.4" width="4" height="4" fill="#fff" stroke="#1a1a1a" stroke-width="1"/>
<rect x="194.1" y="197.4" width="4" height="4" fill="#fff" stroke="#1a1a1a" stroke-width="1"/>
<rect x="215.6" y="192.2" width="4" height="4" fill="#fff" stroke="#1a1a1a" stroke-width="1"/>
<rect x="54.9" y="173.2" width="4.8" height="4.8" fill="#1a1a1a"/>
<rect x="64.7" y="173.2" width="4.8" height="4.8" fill="#1a1a1a"/>
<rect x="86.2" y="178.1" width="4.8" height="4.8" fill="#1a1a1a"/>
<rect x="107.7" y="174.6" width="4.8" height="4.8" fill="#1a1a1a"/>
<rect x="129.2" y="179.2" width="4.8" height="4.8" fill="#1a1a1a"/>
<rect x="150.7" y="204.4" width="4.8" height="4.8" fill="#1a1a1a"/>
<rect x="172.2" y="235" width="4.8" height="4.8" fill="#1a1a1a"/>
<rect x="193.7" y="193.2" width="4.8" height="4.8" fill="#1a1a1a"/>
<rect x="215.2" y="191.8" width="4.8" height="4.8" fill="#1a1a1a"/>
<circle cx="57.3" cy="175.6" r="2.5" fill="#1a1a1a"/>
<circle cx="67.1" cy="175.6" r="2.5" fill="#1a1a1a"/>
<circle cx="88.6" cy="173" r="2.5" fill="#1a1a1a"/>
<circle cx="110.1" cy="173.3" r="2.5" fill="#1a1a1a"/>
<circle cx="131.6" cy="170" r="2.5" fill="#1a1a1a"/>
<circle cx="153.1" cy="173.4" r="2.5" fill="#1a1a1a"/>
<circle cx="174.6" cy="165.8" r="2.5" fill="#1a1a1a"/>
<circle cx="196.1" cy="171.2" r="2.5" fill="#1a1a1a"/>
<circle cx="217.6" cy="173.2" r="2.5" fill="#1a1a1a"/>
<circle cx="88.6" cy="171.4" r="2.1" fill="#fff" stroke="#1a1a1a" stroke-width="1"/>
<line x1="237.3" y1="170.4" x2="245.7" y2="170.4" stroke="#1a1a1a" stroke-width="1" stroke-linecap="butt"/>
<circle cx="241.5" cy="170.4" r="2.7" fill="#1a1a1a"/>
<text x="251.1" y="173.6" font-size="8.8" text-anchor="start" font-weight="normal" fill="#1a1a1a" stroke="#1a1a1a" stroke-width="0">Saline</text>
<line x1="237.3" y1="183.83" x2="245.7" y2="183.83" stroke="#1a1a1a" stroke-width="1" stroke-dasharray="1 2" stroke-linecap="butt"/>
<circle cx="241.5" cy="183.83" r="2.15" fill="#fff" stroke="#1a1a1a" stroke-width="1.1"/>
<text x="251.1" y="187.03" font-size="8.8" text-anchor="start" font-weight="normal" fill="#1a1a1a" stroke="#1a1a1a" stroke-width="0">rH5</text>
<line x1="237.3" y1="197.26" x2="245.7" y2="197.26" stroke="#1a1a1a" stroke-width="1" stroke-linecap="butt"/>
<rect x="239.25" y="195.01" width="4.5" height="4.5" fill="#fff" stroke="#1a1a1a" stroke-width="1.1"/>
<text x="251.1" y="200.46" font-size="8.8" text-anchor="start" font-weight="normal" fill="#1a1a1a" stroke="#1a1a1a" stroke-width="0">rH5 + liposomes</text>
<line x1="237.3" y1="210.69" x2="245.7" y2="210.69" stroke="#1a1a1a" stroke-width="1" stroke-linecap="butt"/>
<rect x="239.1" y="208.29" width="4.8" height="4.8" fill="#1a1a1a"/>
<text x="251.1" y="213.89" font-size="8.8" text-anchor="start" font-weight="normal" fill="#1a1a1a" stroke="#1a1a1a" stroke-width="0">rH5 + 3M052-liposomes</text>
<text x="354.8" y="151.6" font-size="10.6" text-anchor="start" font-weight="bold" fill="#111" stroke="#111" stroke-width="0.3" letter-spacing="2.0">C)</text>
<line x1="410.3" y1="148" x2="410.3" y2="270.2" stroke="#1a1a1a" stroke-width="1.2" stroke-linecap="butt"/>
<line x1="409.7" y1="269.6" x2="574" y2="269.6" stroke="#1a1a1a" stroke-width="1.2" stroke-linecap="butt"/>
<line x1="407.3" y1="269.6" x2="410.3" y2="269.6" stroke="#1a1a1a" stroke-width="1" stroke-linecap="butt"/>
<text transform="translate(402.4 273.23) scale(1 1)" font-size="9.8" text-anchor="end" fill="#1a1a1a" stroke="#1a1a1a" stroke-width="0.06">0.7</text>
<line x1="407.3" y1="239.32" x2="410.3" y2="239.32" stroke="#1a1a1a" stroke-width="1" stroke-linecap="butt"/>
<text transform="translate(402.4 242.95) scale(1 1)" font-size="9.8" text-anchor="end" fill="#1a1a1a" stroke="#1a1a1a" stroke-width="0.06">0.8</text>
<line x1="407.3" y1="209.05" x2="410.3" y2="209.05" stroke="#1a1a1a" stroke-width="1" stroke-linecap="butt"/>
<text transform="translate(402.4 212.68) scale(1 1)" font-size="9.8" text-anchor="end" fill="#1a1a1a" stroke="#1a1a1a" stroke-width="0.06">0.9</text>
<line x1="407.3" y1="178.78" x2="410.3" y2="178.78" stroke="#1a1a1a" stroke-width="1" stroke-linecap="butt"/>
<text transform="translate(402.4 182.4) scale(1 1)" font-size="9.8" text-anchor="end" fill="#1a1a1a" stroke="#1a1a1a" stroke-width="0.06">1.0</text>
<line x1="407.3" y1="148.5" x2="410.3" y2="148.5" stroke="#1a1a1a" stroke-width="1" stroke-linecap="butt"/>
<text transform="translate(402.4 152.13) scale(1 1)" font-size="9.8" text-anchor="end" fill="#1a1a1a" stroke="#1a1a1a" stroke-width="0.06">1.1</text>
<line x1="408.3" y1="254.46" x2="410.3" y2="254.46" stroke="#1a1a1a" stroke-width="0.8" stroke-linecap="butt"/>
<line x1="408.3" y1="224.19" x2="410.3" y2="224.19" stroke="#1a1a1a" stroke-width="0.8" stroke-linecap="butt"/>
<line x1="408.3" y1="193.91" x2="410.3" y2="193.91" stroke="#1a1a1a" stroke-width="0.8" stroke-linecap="butt"/>
<line x1="408.3" y1="163.64" x2="410.3" y2="163.64" stroke="#1a1a1a" stroke-width="0.8" stroke-linecap="butt"/>
<line x1="421.2" y1="269.6" x2="421.2" y2="271.8" stroke="#1a1a1a" stroke-width="0.9" stroke-linecap="butt"/>
<line x1="431.99" y1="269.6" x2="431.99" y2="271" stroke="#1a1a1a" stroke-width="0.9" stroke-linecap="butt"/>
<line x1="442.78" y1="269.6" x2="442.78" y2="271.8" stroke="#1a1a1a" stroke-width="0.9" stroke-linecap="butt"/>
<line x1="453.57" y1="269.6" x2="453.57" y2="271" stroke="#1a1a1a" stroke-width="0.9" stroke-linecap="butt"/>
<line x1="464.36" y1="269.6" x2="464.36" y2="271.8" stroke="#1a1a1a" stroke-width="0.9" stroke-linecap="butt"/>
<line x1="475.15" y1="269.6" x2="475.15" y2="271" stroke="#1a1a1a" stroke-width="0.9" stroke-linecap="butt"/>
<line x1="485.94" y1="269.6" x2="485.94" y2="271.8" stroke="#1a1a1a" stroke-width="0.9" stroke-linecap="butt"/>
<line x1="496.73" y1="269.6" x2="496.73" y2="271" stroke="#1a1a1a" stroke-width="0.9" stroke-linecap="butt"/>
<line x1="507.52" y1="269.6" x2="507.52" y2="271.8" stroke="#1a1a1a" stroke-width="0.9" stroke-linecap="butt"/>
<line x1="518.31" y1="269.6" x2="518.31" y2="271" stroke="#1a1a1a" stroke-width="0.9" stroke-linecap="butt"/>
<line x1="529.1" y1="269.6" x2="529.1" y2="271.8" stroke="#1a1a1a" stroke-width="0.9" stroke-linecap="butt"/>
<line x1="539.89" y1="269.6" x2="539.89" y2="271" stroke="#1a1a1a" stroke-width="0.9" stroke-linecap="butt"/>
<line x1="550.68" y1="269.6" x2="550.68" y2="271.8" stroke="#1a1a1a" stroke-width="0.9" stroke-linecap="butt"/>
<line x1="561.47" y1="269.6" x2="561.47" y2="271" stroke="#1a1a1a" stroke-width="0.9" stroke-linecap="butt"/>
<line x1="572.26" y1="269.6" x2="572.26" y2="271.8" stroke="#1a1a1a" stroke-width="0.9" stroke-linecap="butt"/>
<text transform="translate(421.2 285) scale(0.9 1)" font-size="10" text-anchor="middle" fill="#1a1a1a" stroke="#1a1a1a" stroke-width="0.06">1</text>
<text transform="translate(442.78 285) scale(0.9 1)" font-size="10" text-anchor="middle" fill="#1a1a1a" stroke="#1a1a1a" stroke-width="0.06">3</text>
<text transform="translate(464.36 285) scale(0.9 1)" font-size="10" text-anchor="middle" fill="#1a1a1a" stroke="#1a1a1a" stroke-width="0.06">5</text>
<text transform="translate(485.94 285) scale(0.9 1)" font-size="10" text-anchor="middle" fill="#1a1a1a" stroke="#1a1a1a" stroke-width="0.06">7</text>
<text transform="translate(507.52 285) scale(0.9 1)" font-size="10" text-anchor="middle" fill="#1a1a1a" stroke="#1a1a1a" stroke-width="0.06">9</text>
<text transform="translate(529.1 285) scale(0.9 1)" font-size="10" text-anchor="middle" fill="#1a1a1a" stroke="#1a1a1a" stroke-width="0.06">11</text>
<text transform="translate(550.68 285) scale(0.9 1)" font-size="10" text-anchor="middle" fill="#1a1a1a" stroke="#1a1a1a" stroke-width="0.06">13</text>
<text transform="translate(572.26 285) scale(0.9 1)" font-size="10" text-anchor="middle" fill="#1a1a1a" stroke="#1a1a1a" stroke-width="0.06">15</text>
<text x="498.6" y="297.9" font-size="10" text-anchor="middle" font-weight="normal" fill="#1a1a1a" stroke="#1a1a1a" stroke-width="0">Days Post-Challenge</text>
<text x="370.2" y="212.5" font-size="10" text-anchor="middle" font-weight="normal" fill="#1a1a1a" stroke="#1a1a1a" stroke-width="0" transform="rotate(-90 370.2 212.5)">Relative Body Weight</text>
<text x="389.4" y="212.6" font-size="10" text-anchor="middle" font-weight="normal" fill="#1a1a1a" stroke="#1a1a1a" stroke-width="0" transform="rotate(-90 389.4 212.6)">(d0=1.0)</text>
<line x1="442.78" y1="166.3" x2="442.78" y2="182.3" stroke="#1a1a1a" stroke-width="0.9" stroke-linecap="butt"/>
<line x1="441.18" y1="166.3" x2="444.38" y2="166.3" stroke="#1a1a1a" stroke-width="0.9" stroke-linecap="butt"/>
<line x1="441.18" y1="182.3" x2="444.38" y2="182.3" stroke="#1a1a1a" stroke-width="0.9" stroke-linecap="butt"/>
<line x1="464.36" y1="167.7" x2="464.36" y2="185.7" stroke="#1a1a1a" stroke-width="0.9" stroke-linecap="butt"/>
<line x1="462.76" y1="167.7" x2="465.96" y2="167.7" stroke="#1a1a1a" stroke-width="0.9" stroke-linecap="butt"/>
<line x1="462.76" y1="185.7" x2="465.96" y2="185.7" stroke="#1a1a1a" stroke-width="0.9" stroke-linecap="butt"/>
<line x1="485.94" y1="189.3" x2="485.94" y2="203.3" stroke="#1a1a1a" stroke-width="0.9" stroke-linecap="butt"/>
<line x1="484.34" y1="189.3" x2="487.54" y2="189.3" stroke="#1a1a1a" stroke-width="0.9" stroke-linecap="butt"/>
<line x1="484.34" y1="203.3" x2="487.54" y2="203.3" stroke="#1a1a1a" stroke-width="0.9" stroke-linecap="butt"/>
<line x1="507.52" y1="224.9" x2="507.52" y2="238.9" stroke="#1a1a1a" stroke-width="0.9" stroke-linecap="butt"/>
<line x1="505.92" y1="224.9" x2="509.12" y2="224.9" stroke="#1a1a1a" stroke-width="0.9" stroke-linecap="butt"/>
<line x1="505.92" y1="238.9" x2="509.12" y2="238.9" stroke="#1a1a1a" stroke-width="0.9" stroke-linecap="butt"/>
<line x1="529.1" y1="233.5" x2="529.1" y2="245.5" stroke="#1a1a1a" stroke-width="0.9" stroke-linecap="butt"/>
<line x1="527.5" y1="233.5" x2="530.7" y2="233.5" stroke="#1a1a1a" stroke-width="0.9" stroke-linecap="butt"/>
<line x1="527.5" y1="245.5" x2="530.7" y2="245.5" stroke="#1a1a1a" stroke-width="0.9" stroke-linecap="butt"/>
<line x1="550.68" y1="227.7" x2="550.68" y2="237.7" stroke="#1a1a1a" stroke-width="0.9" stroke-linecap="butt"/>
<line x1="549.08" y1="227.7" x2="552.28" y2="227.7" stroke="#1a1a1a" stroke-width="0.9" stroke-linecap="butt"/>
<line x1="549.08" y1="237.7" x2="552.28" y2="237.7" stroke="#1a1a1a" stroke-width="0.9" stroke-linecap="butt"/>
<line x1="572.26" y1="214" x2="572.26" y2="232" stroke="#1a1a1a" stroke-width="0.9" stroke-linecap="butt"/>
<line x1="570.66" y1="214" x2="573.86" y2="214" stroke="#1a1a1a" stroke-width="0.9" stroke-linecap="butt"/>
<line x1="570.66" y1="232" x2="573.86" y2="232" stroke="#1a1a1a" stroke-width="0.9" stroke-linecap="butt"/>
<line x1="442.78" y1="177.3" x2="442.78" y2="189.3" stroke="#1a1a1a" stroke-width="0.9" stroke-linecap="butt"/>
<line x1="441.18" y1="177.3" x2="444.38" y2="177.3" stroke="#1a1a1a" stroke-width="0.9" stroke-linecap="butt"/>
<line x1="441.18" y1="189.3" x2="444.38" y2="189.3" stroke="#1a1a1a" stroke-width="0.9" stroke-linecap="butt"/>
<line x1="464.36" y1="174.8" x2="464.36" y2="184.8" stroke="#1a1a1a" stroke-width="0.9" stroke-linecap="butt"/>
<line x1="462.76" y1="174.8" x2="465.96" y2="174.8" stroke="#1a1a1a" stroke-width="0.9" stroke-linecap="butt"/>
<line x1="462.76" y1="184.8" x2="465.96" y2="184.8" stroke="#1a1a1a" stroke-width="0.9" stroke-linecap="butt"/>
<line x1="485.94" y1="179" x2="485.94" y2="191" stroke="#1a1a1a" stroke-width="0.9" stroke-linecap="butt"/>
<line x1="484.34" y1="179" x2="487.54" y2="179" stroke="#1a1a1a" stroke-width="0.9" stroke-linecap="butt"/>
<line x1="484.34" y1="191" x2="487.54" y2="191" stroke="#1a1a1a" stroke-width="0.9" stroke-linecap="butt"/>
<line x1="507.52" y1="205.3" x2="507.52" y2="215.3" stroke="#1a1a1a" stroke-width="0.9" stroke-linecap="butt"/>
<line x1="505.92" y1="205.3" x2="509.12" y2="205.3" stroke="#1a1a1a" stroke-width="0.9" stroke-linecap="butt"/>
<line x1="505.92" y1="215.3" x2="509.12" y2="215.3" stroke="#1a1a1a" stroke-width="0.9" stroke-linecap="butt"/>
<line x1="529.1" y1="234.5" x2="529.1" y2="246.5" stroke="#1a1a1a" stroke-width="0.9" stroke-linecap="butt"/>
<line x1="527.5" y1="234.5" x2="530.7" y2="234.5" stroke="#1a1a1a" stroke-width="0.9" stroke-linecap="butt"/>
<line x1="527.5" y1="246.5" x2="530.7" y2="246.5" stroke="#1a1a1a" stroke-width="0.9" stroke-linecap="butt"/>
<line x1="550.68" y1="193" x2="550.68" y2="205" stroke="#1a1a1a" stroke-width="0.9" stroke-linecap="butt"/>
<line x1="549.08" y1="193" x2="552.28" y2="193" stroke="#1a1a1a" stroke-width="0.9" stroke-linecap="butt"/>
<line x1="549.08" y1="205" x2="552.28" y2="205" stroke="#1a1a1a" stroke-width="0.9" stroke-linecap="butt"/>
<line x1="572.26" y1="192" x2="572.26" y2="204" stroke="#1a1a1a" stroke-width="0.9" stroke-linecap="butt"/>
<line x1="570.66" y1="192" x2="573.86" y2="192" stroke="#1a1a1a" stroke-width="0.9" stroke-linecap="butt"/>
<line x1="570.66" y1="204" x2="573.86" y2="204" stroke="#1a1a1a" stroke-width="0.9" stroke-linecap="butt"/>
<line x1="442.78" y1="184" x2="442.78" y2="192" stroke="#1a1a1a" stroke-width="0.9" stroke-linecap="butt"/>
<line x1="441.18" y1="184" x2="444.38" y2="184" stroke="#1a1a1a" stroke-width="0.9" stroke-linecap="butt"/>
<line x1="441.18" y1="192" x2="444.38" y2="192" stroke="#1a1a1a" stroke-width="0.9" stroke-linecap="butt"/>
<line x1="464.36" y1="185" x2="464.36" y2="193" stroke="#1a1a1a" stroke-width="0.9" stroke-linecap="butt"/>
<line x1="462.76" y1="185" x2="465.96" y2="185" stroke="#1a1a1a" stroke-width="0.9" stroke-linecap="butt"/>
<line x1="462.76" y1="193" x2="465.96" y2="193" stroke="#1a1a1a" stroke-width="0.9" stroke-linecap="butt"/>
<line x1="485.94" y1="210.4" x2="485.94" y2="220.4" stroke="#1a1a1a" stroke-width="0.9" stroke-linecap="butt"/>
<line x1="484.34" y1="210.4" x2="487.54" y2="210.4" stroke="#1a1a1a" stroke-width="0.9" stroke-linecap="butt"/>
<line x1="484.34" y1="220.4" x2="487.54" y2="220.4" stroke="#1a1a1a" stroke-width="0.9" stroke-linecap="butt"/>
<line x1="507.52" y1="225.9" x2="507.52" y2="237.9" stroke="#1a1a1a" stroke-width="0.9" stroke-linecap="butt"/>
<line x1="505.92" y1="225.9" x2="509.12" y2="225.9" stroke="#1a1a1a" stroke-width="0.9" stroke-linecap="butt"/>
<line x1="505.92" y1="237.9" x2="509.12" y2="237.9" stroke="#1a1a1a" stroke-width="0.9" stroke-linecap="butt"/>
<line x1="529.1" y1="202.7" x2="529.1" y2="218.7" stroke="#1a1a1a" stroke-width="0.9" stroke-linecap="butt"/>
<line x1="527.5" y1="202.7" x2="530.7" y2="202.7" stroke="#1a1a1a" stroke-width="0.9" stroke-linecap="butt"/>
<line x1="527.5" y1="218.7" x2="530.7" y2="218.7" stroke="#1a1a1a" stroke-width="0.9" stroke-linecap="butt"/>
<line x1="550.68" y1="193" x2="550.68" y2="209" stroke="#1a1a1a" stroke-width="0.9" stroke-linecap="butt"/>
<line x1="549.08" y1="193" x2="552.28" y2="193" stroke="#1a1a1a" stroke-width="0.9" stroke-linecap="butt"/>
<line x1="549.08" y1="209" x2="552.28" y2="209" stroke="#1a1a1a" stroke-width="0.9" stroke-linecap="butt"/>
<line x1="572.26" y1="201.2" x2="572.26" y2="213.2" stroke="#1a1a1a" stroke-width="0.9" stroke-linecap="butt"/>
<line x1="570.66" y1="201.2" x2="573.86" y2="201.2" stroke="#1a1a1a" stroke-width="0.9" stroke-linecap="butt"/>
<line x1="570.66" y1="213.2" x2="573.86" y2="213.2" stroke="#1a1a1a" stroke-width="0.9" stroke-linecap="butt"/>
<line x1="442.78" y1="165.8" x2="442.78" y2="189.8" stroke="#1a1a1a" stroke-width="0.9" stroke-linecap="butt"/>
<line x1="441.18" y1="165.8" x2="444.38" y2="165.8" stroke="#1a1a1a" stroke-width="0.9" stroke-linecap="butt"/>
<line x1="441.18" y1="189.8" x2="444.38" y2="189.8" stroke="#1a1a1a" stroke-width="0.9" stroke-linecap="butt"/>
<line x1="464.36" y1="167.3" x2="464.36" y2="191.3" stroke="#1a1a1a" stroke-width="0.9" stroke-linecap="butt"/>
<line x1="462.76" y1="167.3" x2="465.96" y2="167.3" stroke="#1a1a1a" stroke-width="0.9" stroke-linecap="butt"/>
<line x1="462.76" y1="191.3" x2="465.96" y2="191.3" stroke="#1a1a1a" stroke-width="0.9" stroke-linecap="butt"/>
<line x1="485.94" y1="176.3" x2="485.94" y2="184.3" stroke="#1a1a1a" stroke-width="0.9" stroke-linecap="butt"/>
<line x1="484.34" y1="176.3" x2="487.54" y2="176.3" stroke="#1a1a1a" stroke-width="0.9" stroke-linecap="butt"/>
<line x1="484.34" y1="184.3" x2="487.54" y2="184.3" stroke="#1a1a1a" stroke-width="0.9" stroke-linecap="butt"/>
<line x1="507.52" y1="179.3" x2="507.52" y2="203.3" stroke="#1a1a1a" stroke-width="0.9" stroke-linecap="butt"/>
<line x1="505.92" y1="179.3" x2="509.12" y2="179.3" stroke="#1a1a1a" stroke-width="0.9" stroke-linecap="butt"/>
<line x1="505.92" y1="203.3" x2="509.12" y2="203.3" stroke="#1a1a1a" stroke-width="0.9" stroke-linecap="butt"/>
<line x1="529.1" y1="174.8" x2="529.1" y2="194.8" stroke="#1a1a1a" stroke-width="0.9" stroke-linecap="butt"/>
<line x1="527.5" y1="174.8" x2="530.7" y2="174.8" stroke="#1a1a1a" stroke-width="0.9" stroke-linecap="butt"/>
<line x1="527.5" y1="194.8" x2="530.7" y2="194.8" stroke="#1a1a1a" stroke-width="0.9" stroke-linecap="butt"/>
<line x1="550.68" y1="163.3" x2="550.68" y2="189.3" stroke="#1a1a1a" stroke-width="0.9" stroke-linecap="butt"/>
<line x1="549.08" y1="163.3" x2="552.28" y2="163.3" stroke="#1a1a1a" stroke-width="0.9" stroke-linecap="butt"/>
<line x1="549.08" y1="189.3" x2="552.28" y2="189.3" stroke="#1a1a1a" stroke-width="0.9" stroke-linecap="butt"/>
<line x1="572.26" y1="163.2" x2="572.26" y2="187.2" stroke="#1a1a1a" stroke-width="0.9" stroke-linecap="butt"/>
<line x1="570.66" y1="163.2" x2="573.86" y2="163.2" stroke="#1a1a1a" stroke-width="0.9" stroke-linecap="butt"/>
<line x1="570.66" y1="187.2" x2="573.86" y2="187.2" stroke="#1a1a1a" stroke-width="0.9" stroke-linecap="butt"/>
<line x1="442.78" y1="172.5" x2="442.78" y2="184.5" stroke="#1a1a1a" stroke-width="0.9" stroke-linecap="butt"/>
<line x1="441.18" y1="172.5" x2="444.38" y2="172.5" stroke="#1a1a1a" stroke-width="0.9" stroke-linecap="butt"/>
<line x1="441.18" y1="184.5" x2="444.38" y2="184.5" stroke="#1a1a1a" stroke-width="0.9" stroke-linecap="butt"/>
<line x1="464.36" y1="174" x2="464.36" y2="186" stroke="#1a1a1a" stroke-width="0.9" stroke-linecap="butt"/>
<line x1="462.76" y1="174" x2="465.96" y2="174" stroke="#1a1a1a" stroke-width="0.9" stroke-linecap="butt"/>
<line x1="462.76" y1="186" x2="465.96" y2="186" stroke="#1a1a1a" stroke-width="0.9" stroke-linecap="butt"/>
<line x1="485.94" y1="178.2" x2="485.94" y2="186.2" stroke="#1a1a1a" stroke-width="0.9" stroke-linecap="butt"/>
<line x1="484.34" y1="178.2" x2="487.54" y2="178.2" stroke="#1a1a1a" stroke-width="0.9" stroke-linecap="butt"/>
<line x1="484.34" y1="186.2" x2="487.54" y2="186.2" stroke="#1a1a1a" stroke-width="0.9" stroke-linecap="butt"/>
<line x1="507.52" y1="183.8" x2="507.52" y2="203.8" stroke="#1a1a1a" stroke-width="0.9" stroke-linecap="butt"/>
<line x1="505.92" y1="183.8" x2="509.12" y2="183.8" stroke="#1a1a1a" stroke-width="0.9" stroke-linecap="butt"/>
<line x1="505.92" y1="203.8" x2="509.12" y2="203.8" stroke="#1a1a1a" stroke-width="0.9" stroke-linecap="butt"/>
<line x1="529.1" y1="178.6" x2="529.1" y2="196.6" stroke="#1a1a1a" stroke-width="0.9" stroke-linecap="butt"/>
<line x1="527.5" y1="178.6" x2="530.7" y2="178.6" stroke="#1a1a1a" stroke-width="0.9" stroke-linecap="butt"/>
<line x1="527.5" y1="196.6" x2="530.7" y2="196.6" stroke="#1a1a1a" stroke-width="0.9" stroke-linecap="butt"/>
<line x1="550.68" y1="166.9" x2="550.68" y2="190.9" stroke="#1a1a1a" stroke-width="0.9" stroke-linecap="butt"/>
<line x1="549.08" y1="166.9" x2="552.28" y2="166.9" stroke="#1a1a1a" stroke-width="0.9" stroke-linecap="butt"/>
<line x1="549.08" y1="190.9" x2="552.28" y2="190.9" stroke="#1a1a1a" stroke-width="0.9" stroke-linecap="butt"/>
<line x1="572.26" y1="168.4" x2="572.26" y2="188.4" stroke="#1a1a1a" stroke-width="0.9" stroke-linecap="butt"/>
<line x1="570.66" y1="168.4" x2="573.86" y2="168.4" stroke="#1a1a1a" stroke-width="0.9" stroke-linecap="butt"/>
<line x1="570.66" y1="188.4" x2="573.86" y2="188.4" stroke="#1a1a1a" stroke-width="0.9" stroke-linecap="butt"/>
<polyline points="410.3,178.8 421.2,178.8 442.78,174.3 464.36,176.7 485.94,196.3 507.52,231.9 529.1,239.5 550.68,232.7 572.26,223" fill="none" stroke="#1a1a1a" stroke-width="1.2" stroke-dasharray="1.4 1.6" stroke-linejoin="miter"/>
<polyline points="410.3,178.8 421.2,178.8 442.78,183.3 464.36,179.8 485.94,185 507.52,210.3 529.1,240.5 550.68,199 572.26,198" fill="none" stroke="#1a1a1a" stroke-width="1.2" stroke-dasharray="2.8 1.6" stroke-linejoin="miter"/>
<polyline points="410.3,178.8 421.2,178.8 442.78,188 464.36,189 485.94,215.4 507.52,231.9 529.1,210.7 550.68,201 572.26,207.2" fill="none" stroke="#1a1a1a" stroke-width="1.2" stroke-linejoin="miter"/>
<polyline points="410.3,178.8 421.2,178.8 442.78,177.8 464.36,179.3 485.94,180.3 507.52,191.3 529.1,184.8 550.68,176.3 572.26,175.2" fill="none" stroke="#1a1a1a" stroke-width="1" stroke-linejoin="miter"/>
<polyline points="410.3,178.8 421.2,178.8 442.78,178.5 464.36,180 485.94,182.2 507.52,193.8 529.1,187.6 550.68,178.9 572.26,178.4" fill="none" stroke="#1a1a1a" stroke-width="1" stroke-linejoin="miter"/>
<circle cx="529.1" cy="239.5" r="2.1" fill="#fff" stroke="#1a1a1a" stroke-width="1"/>
<circle cx="550.68" cy="232.7" r="2.1" fill="#fff" stroke="#1a1a1a" stroke-width="1"/>
<circle cx="572.26" cy="223" r="2.1" fill="#fff" stroke="#1a1a1a" stroke-width="1"/>
<polygon points="410.3,175.98 407.5,181.32 413.1,181.32" fill="#fff" stroke="#1a1a1a" stroke-width="1" stroke-linejoin="miter"/>
<polygon points="421.2,175.98 418.4,181.32 424,181.32" fill="#fff" stroke="#1a1a1a" stroke-width="1" stroke-linejoin="miter"/>
<polygon points="442.78,185.18 439.98,190.52 445.58,190.52" fill="#fff" stroke="#1a1a1a" stroke-width="1" stroke-linejoin="miter"/>
<polygon points="464.36,186.18 461.56,191.52 467.16,191.52" fill="#fff" stroke="#1a1a1a" stroke-width="1" stroke-linejoin="miter"/>
<polygon points="485.94,212.58 483.14,217.92 488.74,217.92" fill="#fff" stroke="#1a1a1a" stroke-width="1" stroke-linejoin="miter"/>
<polygon points="507.52,229.08 504.72,234.42 510.32,234.42" fill="#fff" stroke="#1a1a1a" stroke-width="1" stroke-linejoin="miter"/>
<polygon points="529.1,207.88 526.3,213.22 531.9,213.22" fill="#fff" stroke="#1a1a1a" stroke-width="1" stroke-linejoin="miter"/>
<polygon points="550.68,198.18 547.88,203.52 553.48,203.52" fill="#fff" stroke="#1a1a1a" stroke-width="1" stroke-linejoin="miter"/>
<polygon points="572.26,204.38 569.46,209.72 575.06,209.72" fill="#fff" stroke="#1a1a1a" stroke-width="1" stroke-linejoin="miter"/>
<circle cx="410.3" cy="178.8" r="2.5" fill="#1a1a1a"/>
<circle cx="421.2" cy="178.8" r="2.5" fill="#1a1a1a"/>
<circle cx="442.78" cy="183.3" r="2.5" fill="#1a1a1a"/>
<circle cx="464.36" cy="179.8" r="2.5" fill="#1a1a1a"/>
<circle cx="485.94" cy="185" r="2.5" fill="#1a1a1a"/>
<circle cx="507.52" cy="210.3" r="2.5" fill="#1a1a1a"/>
<circle cx="529.1" cy="240.5" r="2.5" fill="#1a1a1a"/>
<circle cx="550.68" cy="199" r="2.5" fill="#1a1a1a"/>
<circle cx="572.26" cy="198" r="2.5" fill="#1a1a1a"/>
<polygon points="410.3,176.7 408.3,180.6 412.3,180.6" fill="#1a1a1a"/>
<polygon points="421.2,176.7 419.2,180.6 423.2,180.6" fill="#1a1a1a"/>
<polygon points="442.78,175.7 440.78,179.6 444.78,179.6" fill="#1a1a1a"/>
<polygon points="464.36,177.2 462.36,181.1 466.36,181.1" fill="#1a1a1a"/>
<polygon points="485.94,178.2 483.94,182.1 487.94,182.1" fill="#1a1a1a"/>
<polygon points="507.52,189.2 505.52,193.1 509.52,193.1" fill="#1a1a1a"/>
<polygon points="529.1,182.7 527.1,186.6 531.1,186.6" fill="#1a1a1a"/>
<polygon points="550.68,174.2 548.68,178.1 552.68,178.1" fill="#1a1a1a"/>
<polygon points="572.26,173.1 570.26,177 574.26,177" fill="#1a1a1a"/>
<polygon points="410.3,176.8 412.3,178.8 410.3,180.8 408.3,178.8" fill="#1a1a1a"/>
<polygon points="421.2,176.8 423.2,178.8 421.2,180.8 419.2,178.8" fill="#1a1a1a"/>
<polygon points="442.78,176.5 444.78,178.5 442.78,180.5 440.78,178.5" fill="#1a1a1a"/>
<polygon points="464.36,178 466.36,180 464.36,182 462.36,180" fill="#1a1a1a"/>
<polygon points="485.94,180.2 487.94,182.2 485.94,184.2 483.94,182.2" fill="#1a1a1a"/>
<polygon points="507.52,191.8 509.52,193.8 507.52,195.8 505.52,193.8" fill="#1a1a1a"/>
<polygon points="529.1,185.6 531.1,187.6 529.1,189.6 527.1,187.6" fill="#1a1a1a"/>
<polygon points="550.68,176.9 552.68,178.9 550.68,180.9 548.68,178.9" fill="#1a1a1a"/>
<polygon points="572.26,176.4 574.26,178.4 572.26,180.4 570.26,178.4" fill="#1a1a1a"/>
<circle cx="442.78" cy="174.3" r="2.1" fill="#fff" stroke="#1a1a1a" stroke-width="1"/>
<circle cx="464.36" cy="176.7" r="2.1" fill="#fff" stroke="#1a1a1a" stroke-width="1"/>
<circle cx="485.94" cy="196.3" r="2.1" fill="#fff" stroke="#1a1a1a" stroke-width="1"/>
<circle cx="507.52" cy="231.9" r="2.1" fill="#fff" stroke="#1a1a1a" stroke-width="1"/>
<line x1="591.2" y1="161.6" x2="599.7" y2="161.6" stroke="#1a1a1a" stroke-width="1" stroke-linecap="butt"/>
<circle cx="595" cy="161.6" r="2.6" fill="#1a1a1a"/>
<text x="604.3" y="164.8" font-size="8.8" text-anchor="start" font-weight="normal" fill="#1a1a1a" stroke="#1a1a1a" stroke-width="0">Saline</text>
<line x1="591.2" y1="174.9" x2="599.7" y2="174.9" stroke="#1a1a1a" stroke-width="1" stroke-dasharray="1 2" stroke-linecap="butt"/>
<circle cx="595" cy="174.9" r="1.92" fill="#fff" stroke="#1a1a1a" stroke-width="0.95"/>
<text x="604.3" y="178.1" font-size="8.8" text-anchor="start" font-weight="normal" fill="#1a1a1a" stroke="#1a1a1a" stroke-width="0">rH5</text>
<line x1="591.2" y1="188.2" x2="599.7" y2="188.2" stroke="#1a1a1a" stroke-width="1" stroke-linecap="butt"/>
<polygon points="595,185.83 592.7,190.27 597.3,190.27" fill="#1a1a1a"/>
<text x="604.3" y="191.4" font-size="8.8" text-anchor="start" font-weight="normal" fill="#1a1a1a" stroke="#1a1a1a" stroke-width="0">rH5 + 3M052-SE</text>
<line x1="591.2" y1="201.5" x2="599.7" y2="201.5" stroke="#1a1a1a" stroke-width="1" stroke-linecap="butt"/>
<polygon points="595,198.77 592.3,203.93 597.7,203.93" fill="#fff" stroke="#1a1a1a" stroke-width="0.95" stroke-linejoin="miter"/>
<text x="604.3" y="204.7" font-size="8.8" text-anchor="start" font-weight="normal" fill="#1a1a1a" stroke="#1a1a1a" stroke-width="0">rH5 + SE</text>
<line x1="591.2" y1="214.8" x2="599.7" y2="214.8" stroke="#1a1a1a" stroke-width="1" stroke-linecap="butt"/>
<polygon points="595,212.5 597.3,214.8 595,217.1 592.7,214.8" fill="#1a1a1a"/>
<text x="604.3" y="218" font-size="8.8" text-anchor="start" font-weight="normal" fill="#1a1a1a" stroke="#1a1a1a" stroke-width="0">rH5 + R848-SE</text>
<text x="1" y="317.5" font-size="10.6" text-anchor="start" font-weight="bold" fill="#111" stroke="#111" stroke-width="0.3" letter-spacing="2.0">D)</text>
<line x1="33.8" y1="357.6" x2="33.8" y2="439.5" stroke="#8d8d8d" stroke-width="1.6" stroke-linecap="butt"/>
<line x1="33" y1="438.8" x2="155.6" y2="438.8" stroke="#8d8d8d" stroke-width="1.6" stroke-linecap="butt"/>
<line x1="31.2" y1="438.7" x2="33.8" y2="438.7" stroke="#222" stroke-width="1" stroke-linecap="butt"/>
<text x="31.4" y="442.3" font-size="10" text-anchor="end" font-weight="normal" fill="#222" stroke="#222" stroke-width="0">0</text>
<line x1="31.2" y1="425.27" x2="33.8" y2="425.27" stroke="#222" stroke-width="1" stroke-linecap="butt"/>
<text x="31.4" y="428.87" font-size="10" text-anchor="end" font-weight="normal" fill="#222" stroke="#222" stroke-width="0">1</text>
<line x1="31.2" y1="411.84" x2="33.8" y2="411.84" stroke="#222" stroke-width="1" stroke-linecap="butt"/>
<text x="31.4" y="415.44" font-size="10" text-anchor="end" font-weight="normal" fill="#222" stroke="#222" stroke-width="0">2</text>
<line x1="31.2" y1="398.41" x2="33.8" y2="398.41" stroke="#222" stroke-width="1" stroke-linecap="butt"/>
<text x="31.4" y="402.01" font-size="10" text-anchor="end" font-weight="normal" fill="#222" stroke="#222" stroke-width="0">3</text>
<line x1="31.2" y1="384.98" x2="33.8" y2="384.98" stroke="#222" stroke-width="1" stroke-linecap="butt"/>
<text x="31.4" y="388.58" font-size="10" text-anchor="end" font-weight="normal" fill="#222" stroke="#222" stroke-width="0">4</text>
<line x1="31.2" y1="371.55" x2="33.8" y2="371.55" stroke="#222" stroke-width="1" stroke-linecap="butt"/>
<text x="31.4" y="375.15" font-size="10" text-anchor="end" font-weight="normal" fill="#222" stroke="#222" stroke-width="0">5</text>
<line x1="31.2" y1="358.12" x2="33.8" y2="358.12" stroke="#222" stroke-width="1" stroke-linecap="butt"/>
<text x="31.4" y="361.72" font-size="10" text-anchor="end" font-weight="normal" fill="#222" stroke="#222" stroke-width="0">6</text>
<line x1="41.4" y1="438.8" x2="41.4" y2="441" stroke="#222" stroke-width="1" stroke-linecap="butt"/>
<line x1="56.5" y1="438.8" x2="56.5" y2="441" stroke="#222" stroke-width="1" stroke-linecap="butt"/>
<line x1="71.6" y1="438.8" x2="71.6" y2="441" stroke="#222" stroke-width="1" stroke-linecap="butt"/>
<line x1="86.7" y1="438.8" x2="86.7" y2="441" stroke="#222" stroke-width="1" stroke-linecap="butt"/>
<line x1="101.8" y1="438.8" x2="101.8" y2="441" stroke="#222" stroke-width="1" stroke-linecap="butt"/>
<line x1="116.9" y1="438.8" x2="116.9" y2="441" stroke="#222" stroke-width="1" stroke-linecap="butt"/>
<line x1="132" y1="438.8" x2="132" y2="441" stroke="#222" stroke-width="1" stroke-linecap="butt"/>
<line x1="147.1" y1="438.8" x2="147.1" y2="441" stroke="#222" stroke-width="1" stroke-linecap="butt"/>
<line x1="36" y1="425.5" x2="155.6" y2="425.5" stroke="#444" stroke-width="1" stroke-dasharray="1 1.6" stroke-linecap="butt"/>
<text x="9.4" y="395.4" font-size="9.6" text-anchor="middle" font-weight="normal" fill="#222" stroke="#222" stroke-width="0" transform="rotate(-90 9.4 395.4)">Log<tspan font-size="7.8" dy="1.6">10</tspan><tspan dy="-1.6"> Lung Virus Titer</tspan></text>
<text x="25.6" y="397.5" font-size="10" text-anchor="middle" font-weight="normal" fill="#222" stroke="#222" stroke-width="0" transform="rotate(-90 25.6 397.5)">(PFU/ml)</text>
<polyline points="41.5,326.7 41.5,322.5 147.5,322.5 147.5,326.7" fill="none" stroke="#7a7a7a" stroke-width="1" stroke-linejoin="miter"/>
<path d="M85.6 317.45L85.6 320.75M87.03 318.28L84.17 319.93M87.03 319.93L84.17 318.28M89 317.45L89 320.75M90.43 318.28L87.57 319.93M90.43 319.93L87.57 318.28M92.4 317.45L92.4 320.75M93.83 318.28L90.97 319.93M93.83 319.93L90.97 318.28M95.8 317.45L95.8 320.75M97.23 318.28L94.37 319.93M97.23 319.93L94.37 318.28" stroke="#1a1a1a" stroke-width="1.05" fill="none"/>
<polyline points="41.5,336.7 41.5,332.5 102.5,332.5 102.5,336.7" fill="none" stroke="#7a7a7a" stroke-width="1" stroke-linejoin="miter"/>
<path d="M73.8 326.75L73.8 330.05M75.23 327.57L72.37 329.22M75.23 329.22L72.37 327.57M77.2 326.75L77.2 330.05M78.63 327.57L75.77 329.22M78.63 329.22L75.77 327.57" stroke="#1a1a1a" stroke-width="1.05" fill="none"/>
<polyline points="57.5,348.6 57.5,344.5 147.5,344.5 147.5,348.6" fill="none" stroke="#7a7a7a" stroke-width="1" stroke-linejoin="miter"/>
<path d="M97.6 339.65L97.6 342.95M99.03 340.48L96.17 342.12M99.03 342.12L96.17 340.48M101 339.65L101 342.95M102.43 340.48L99.57 342.12M102.43 342.12L99.57 340.48M104.4 339.65L104.4 342.95M105.83 340.48L102.97 342.12M105.83 342.12L102.97 340.48M107.8 339.65L107.8 342.95M109.23 340.48L106.37 342.12M109.23 342.12L106.37 340.48" stroke="#1a1a1a" stroke-width="1.05" fill="none"/>
<polyline points="57.5,357.7 57.5,353.5 102.5,353.5 102.5,357.7" fill="none" stroke="#7a7a7a" stroke-width="1" stroke-linejoin="miter"/>
<text x="83.7" y="353.08" font-size="8" text-anchor="middle" font-weight="normal" fill="#333" stroke="#333" stroke-width="0">ns</text>
<polyline points="132.5,357.7 132.5,353.5 147.5,353.5 147.5,357.7" fill="none" stroke="#7a7a7a" stroke-width="1" stroke-linejoin="miter"/>
<path d="M134.9 348.15L134.9 351.45M136.33 348.98L133.47 350.62M136.33 350.62L133.47 348.98M138.3 348.15L138.3 351.45M139.73 348.98L136.87 350.62M139.73 350.62L136.87 348.98M141.7 348.15L141.7 351.45M143.13 348.98L140.27 350.62M143.13 350.62L140.27 348.98M145.1 348.15L145.1 351.45M146.53 348.98L143.67 350.62M146.53 350.62L143.67 348.98" stroke="#1a1a1a" stroke-width="1.05" fill="none"/>
<circle cx="38.8" cy="378.3" r="1.7" fill="#8d8d8d"/>
<circle cx="43.7" cy="378.3" r="1.7" fill="#8d8d8d"/>
<circle cx="41.5" cy="391.7" r="1.7" fill="#8d8d8d"/>
<line x1="36.4" y1="382.6" x2="46.9" y2="382.6" stroke="#333" stroke-width="1.2" stroke-linecap="butt"/>
<circle cx="56.5" cy="378.3" r="1.7" fill="#8d8d8d"/>
<circle cx="56.5" cy="387.9" r="1.7" fill="#8d8d8d"/>
<circle cx="56.5" cy="401.9" r="1.7" fill="#8d8d8d"/>
<line x1="51.6" y1="389.4" x2="61.7" y2="389.4" stroke="#333" stroke-width="1.2" stroke-linecap="butt"/>
<circle cx="69.6" cy="391.7" r="1.7" fill="#8d8d8d"/>
<circle cx="74.3" cy="391.7" r="1.7" fill="#8d8d8d"/>
<circle cx="69.1" cy="398.7" r="1.7" fill="#8d8d8d"/>
<circle cx="71.4" cy="401.9" r="1.7" fill="#8d8d8d"/>
<circle cx="74.3" cy="401.9" r="1.7" fill="#8d8d8d"/>
<line x1="67" y1="397.3" x2="77" y2="397.3" stroke="#333" stroke-width="1.2" stroke-linecap="butt"/>
<circle cx="86.9" cy="388.2" r="1.7" fill="#8d8d8d"/>
<circle cx="89.7" cy="391.7" r="1.7" fill="#8d8d8d"/>
<circle cx="84.5" cy="395.2" r="1.7" fill="#8d8d8d"/>
<circle cx="86.9" cy="401.9" r="1.7" fill="#8d8d8d"/>
<line x1="82.6" y1="394.3" x2="91.8" y2="394.3" stroke="#333" stroke-width="1.2" stroke-linecap="butt"/>
<circle cx="101.9" cy="391.8" r="1.7" fill="#8d8d8d"/>
<circle cx="100.9" cy="408.4" r="1.7" fill="#8d8d8d"/>
<circle cx="99.1" cy="411.9" r="1.7" fill="#8d8d8d"/>
<circle cx="101.9" cy="415.4" r="1.7" fill="#8d8d8d"/>
<circle cx="104.9" cy="415.4" r="1.7" fill="#8d8d8d"/>
<line x1="97" y1="408.4" x2="107" y2="408.4" stroke="#333" stroke-width="1.2" stroke-linecap="butt"/>
<circle cx="117.1" cy="375.1" r="1.7" fill="#8d8d8d"/>
<circle cx="114.5" cy="378.1" r="1.7" fill="#8d8d8d"/>
<circle cx="116.6" cy="381.8" r="1.7" fill="#8d8d8d"/>
<circle cx="119.8" cy="381.8" r="1.7" fill="#8d8d8d"/>
<line x1="111.9" y1="379.2" x2="122.4" y2="379.2" stroke="#333" stroke-width="1.2" stroke-linecap="butt"/>
<circle cx="132.4" cy="365" r="1.7" fill="#8d8d8d"/>
<circle cx="132.4" cy="375.1" r="1.7" fill="#8d8d8d"/>
<circle cx="132.4" cy="381.8" r="1.7" fill="#8d8d8d"/>
<circle cx="134.6" cy="388.3" r="1.7" fill="#8d8d8d"/>
<circle cx="129.9" cy="391.8" r="1.7" fill="#8d8d8d"/>
<line x1="127.1" y1="380.4" x2="137.3" y2="380.4" stroke="#333" stroke-width="1.2" stroke-linecap="butt"/>
<circle cx="144.6" cy="425.4" r="1.7" fill="#8d8d8d"/>
<circle cx="145.5" cy="428.2" r="1.7" fill="#8d8d8d"/>
<circle cx="148.5" cy="428.2" r="1.7" fill="#8d8d8d"/>
<circle cx="151" cy="428.2" r="1.7" fill="#8d8d8d"/>
<line x1="142.5" y1="428.4" x2="152.1" y2="428.4" stroke="#333" stroke-width="1.3" stroke-linecap="butt"/>
<text transform="translate(36.2 450.48) scale(1 1)" font-size="8" text-anchor="end" fill="#222" stroke="#222" stroke-width="0.06">rHA</text>
<line x1="39.9" y1="447.6" x2="42.9" y2="447.6" stroke="#222" stroke-width="1" stroke-linecap="butt"/>
<line x1="53.6" y1="447.6" x2="59.4" y2="447.6" stroke="#222" stroke-width="1.1" stroke-linecap="butt"/>
<line x1="56.5" y1="444.7" x2="56.5" y2="450.5" stroke="#222" stroke-width="1.1" stroke-linecap="butt"/>
<line x1="68.7" y1="447.6" x2="74.5" y2="447.6" stroke="#222" stroke-width="1.1" stroke-linecap="butt"/>
<line x1="71.6" y1="444.7" x2="71.6" y2="450.5" stroke="#222" stroke-width="1.1" stroke-linecap="butt"/>
<line x1="83.8" y1="447.6" x2="89.6" y2="447.6" stroke="#222" stroke-width="1.1" stroke-linecap="butt"/>
<line x1="86.7" y1="444.7" x2="86.7" y2="450.5" stroke="#222" stroke-width="1.1" stroke-linecap="butt"/>
<line x1="98.9" y1="447.6" x2="104.7" y2="447.6" stroke="#222" stroke-width="1.1" stroke-linecap="butt"/>
<line x1="101.8" y1="444.7" x2="101.8" y2="450.5" stroke="#222" stroke-width="1.1" stroke-linecap="butt"/>
<line x1="115.4" y1="447.6" x2="118.4" y2="447.6" stroke="#222" stroke-width="1" stroke-linecap="butt"/>
<line x1="129.1" y1="447.6" x2="134.9" y2="447.6" stroke="#222" stroke-width="1.1" stroke-linecap="butt"/>
<line x1="132" y1="444.7" x2="132" y2="450.5" stroke="#222" stroke-width="1.1" stroke-linecap="butt"/>
<line x1="144.2" y1="447.6" x2="150" y2="447.6" stroke="#222" stroke-width="1.1" stroke-linecap="butt"/>
<line x1="147.1" y1="444.7" x2="147.1" y2="450.5" stroke="#222" stroke-width="1.1" stroke-linecap="butt"/>
<text transform="translate(36.2 459.98) scale(1 1)" font-size="8" text-anchor="end" fill="#222" stroke="#222" stroke-width="0.06">R848</text>
<line x1="39.9" y1="457.1" x2="42.9" y2="457.1" stroke="#222" stroke-width="1" stroke-linecap="butt"/>
<line x1="55" y1="457.1" x2="58" y2="457.1" stroke="#222" stroke-width="1" stroke-linecap="butt"/>
<line x1="70.1" y1="457.1" x2="73.1" y2="457.1" stroke="#222" stroke-width="1" stroke-linecap="butt"/>
<line x1="83.8" y1="457.1" x2="89.6" y2="457.1" stroke="#222" stroke-width="1.1" stroke-linecap="butt"/>
<line x1="86.7" y1="454.2" x2="86.7" y2="460" stroke="#222" stroke-width="1.1" stroke-linecap="butt"/>
<line x1="100.3" y1="457.1" x2="103.3" y2="457.1" stroke="#222" stroke-width="1" stroke-linecap="butt"/>
<line x1="115.4" y1="457.1" x2="118.4" y2="457.1" stroke="#222" stroke-width="1" stroke-linecap="butt"/>
<line x1="130.5" y1="457.1" x2="133.5" y2="457.1" stroke="#222" stroke-width="1" stroke-linecap="butt"/>
<line x1="145.6" y1="457.1" x2="148.6" y2="457.1" stroke="#222" stroke-width="1" stroke-linecap="butt"/>
<text transform="translate(36.2 469.98) scale(1 1)" font-size="8" text-anchor="end" fill="#222" stroke="#222" stroke-width="0.06">3M-052</text>
<line x1="39.9" y1="467.1" x2="42.9" y2="467.1" stroke="#222" stroke-width="1" stroke-linecap="butt"/>
<line x1="55" y1="467.1" x2="58" y2="467.1" stroke="#222" stroke-width="1" stroke-linecap="butt"/>
<line x1="70.1" y1="467.1" x2="73.1" y2="467.1" stroke="#222" stroke-width="1" stroke-linecap="butt"/>
<line x1="85.2" y1="467.1" x2="88.2" y2="467.1" stroke="#222" stroke-width="1" stroke-linecap="butt"/>
<line x1="98.9" y1="467.1" x2="104.7" y2="467.1" stroke="#222" stroke-width="1.1" stroke-linecap="butt"/>
<line x1="101.8" y1="464.2" x2="101.8" y2="470" stroke="#222" stroke-width="1.1" stroke-linecap="butt"/>
<line x1="114" y1="467.1" x2="119.8" y2="467.1" stroke="#222" stroke-width="1.1" stroke-linecap="butt"/>
<line x1="116.9" y1="464.2" x2="116.9" y2="470" stroke="#222" stroke-width="1.1" stroke-linecap="butt"/>
<line x1="130.5" y1="467.1" x2="133.5" y2="467.1" stroke="#222" stroke-width="1" stroke-linecap="butt"/>
<line x1="144.2" y1="467.1" x2="150" y2="467.1" stroke="#222" stroke-width="1.1" stroke-linecap="butt"/>
<line x1="147.1" y1="464.2" x2="147.1" y2="470" stroke="#222" stroke-width="1.1" stroke-linecap="butt"/>
<line x1="36.1" y1="473.4" x2="60.4" y2="473.4" stroke="#8a8a8a" stroke-width="1.4" stroke-linecap="butt"/>
<line x1="66.7" y1="473.4" x2="119.4" y2="473.4" stroke="#8a8a8a" stroke-width="1.4" stroke-linecap="butt"/>
<line x1="125.8" y1="473.4" x2="154" y2="473.4" stroke="#8a8a8a" stroke-width="1.4" stroke-linecap="butt"/>
<text x="47.6" y="482.47" font-size="8.8" text-anchor="middle" font-weight="normal" fill="#222" stroke="#222" stroke-width="0">Aqueous</text>
<text x="93.2" y="482.47" font-size="8.8" text-anchor="middle" font-weight="normal" fill="#222" stroke="#222" stroke-width="0">Emulsion</text>
<text x="141.5" y="482.47" font-size="8.8" text-anchor="middle" font-weight="normal" fill="#222" stroke="#222" stroke-width="0">Liposome</text>
<text x="180.2" y="317.7" font-size="10.6" text-anchor="start" font-weight="bold" fill="#111" stroke="#111" stroke-width="0.3" letter-spacing="2.0">E)</text>
<line x1="210.3" y1="357.8" x2="210.3" y2="439.2" stroke="#333" stroke-width="1.3" stroke-linecap="butt"/>
<line x1="208.3" y1="438.6" x2="330.9" y2="438.6" stroke="#333" stroke-width="1.3" stroke-linecap="butt"/>
<line x1="207.7" y1="438.3" x2="210.3" y2="438.3" stroke="#222" stroke-width="1" stroke-linecap="butt"/>
<text x="207.5" y="441.9" font-size="10" text-anchor="end" font-weight="normal" fill="#222" stroke="#222" stroke-width="0">0</text>
<line x1="207.7" y1="424.95" x2="210.3" y2="424.95" stroke="#222" stroke-width="1" stroke-linecap="butt"/>
<text x="207.5" y="428.55" font-size="10" text-anchor="end" font-weight="normal" fill="#222" stroke="#222" stroke-width="0">1</text>
<line x1="207.7" y1="411.6" x2="210.3" y2="411.6" stroke="#222" stroke-width="1" stroke-linecap="butt"/>
<text x="207.5" y="415.2" font-size="10" text-anchor="end" font-weight="normal" fill="#222" stroke="#222" stroke-width="0">2</text>
<line x1="207.7" y1="398.25" x2="210.3" y2="398.25" stroke="#222" stroke-width="1" stroke-linecap="butt"/>
<text x="207.5" y="401.85" font-size="10" text-anchor="end" font-weight="normal" fill="#222" stroke="#222" stroke-width="0">3</text>
<line x1="207.7" y1="384.9" x2="210.3" y2="384.9" stroke="#222" stroke-width="1" stroke-linecap="butt"/>
<text x="207.5" y="388.5" font-size="10" text-anchor="end" font-weight="normal" fill="#222" stroke="#222" stroke-width="0">4</text>
<line x1="207.7" y1="371.55" x2="210.3" y2="371.55" stroke="#222" stroke-width="1" stroke-linecap="butt"/>
<text x="207.5" y="375.15" font-size="10" text-anchor="end" font-weight="normal" fill="#222" stroke="#222" stroke-width="0">5</text>
<line x1="207.7" y1="358.2" x2="210.3" y2="358.2" stroke="#222" stroke-width="1" stroke-linecap="butt"/>
<text x="207.5" y="361.8" font-size="10" text-anchor="end" font-weight="normal" fill="#222" stroke="#222" stroke-width="0">6</text>
<line x1="217.4" y1="438.6" x2="217.4" y2="440.8" stroke="#222" stroke-width="1" stroke-linecap="butt"/>
<line x1="232.51" y1="438.6" x2="232.51" y2="440.8" stroke="#222" stroke-width="1" stroke-linecap="butt"/>
<line x1="247.62" y1="438.6" x2="247.62" y2="440.8" stroke="#222" stroke-width="1" stroke-linecap="butt"/>
<line x1="262.73" y1="438.6" x2="262.73" y2="440.8" stroke="#222" stroke-width="1" stroke-linecap="butt"/>
<line x1="277.84" y1="438.6" x2="277.84" y2="440.8" stroke="#222" stroke-width="1" stroke-linecap="butt"/>
<line x1="292.95" y1="438.6" x2="292.95" y2="440.8" stroke="#222" stroke-width="1" stroke-linecap="butt"/>
<line x1="308.06" y1="438.6" x2="308.06" y2="440.8" stroke="#222" stroke-width="1" stroke-linecap="butt"/>
<line x1="323.17" y1="438.6" x2="323.17" y2="440.8" stroke="#222" stroke-width="1" stroke-linecap="butt"/>
<line x1="212" y1="425.3" x2="331.8" y2="425.3" stroke="#444" stroke-width="1" stroke-dasharray="1 1.6" stroke-linecap="butt"/>
<text x="182.6" y="395.8" font-size="9.6" text-anchor="middle" font-weight="normal" fill="#222" stroke="#222" stroke-width="0" transform="rotate(-90 182.6 395.8)">Log<tspan font-size="7.8" dy="1.6">10</tspan><tspan dy="-1.6"> Lung Virus Titer</tspan></text>
<text x="197.2" y="393.7" font-size="9.8" text-anchor="middle" font-weight="normal" fill="#222" stroke="#222" stroke-width="0" transform="rotate(-90 197.2 393.7)">(PFU/ml)</text>
<polyline points="229.5,326.6 229.5,322.5 323.5,322.5 323.5,326.6" fill="none" stroke="#7a7a7a" stroke-width="1" stroke-linejoin="miter"/>
<path d="M270.4 317.95L270.4 321.25M271.83 318.78L268.97 320.43M271.83 320.43L268.97 318.78M273.8 317.95L273.8 321.25M275.23 318.78L272.37 320.43M275.23 320.43L272.37 318.78M277.2 317.95L277.2 321.25M278.63 318.78L275.77 320.43M278.63 320.43L275.77 318.78M280.6 317.95L280.6 321.25M282.03 318.78L279.17 320.43M282.03 320.43L279.17 318.78" stroke="#1a1a1a" stroke-width="1.05" fill="none"/>
<polyline points="229.5,335.5 229.5,331.5 276.5,331.5 276.5,335.5" fill="none" stroke="#7a7a7a" stroke-width="1" stroke-linejoin="miter"/>
<path d="M247.9 327.15L247.9 330.45M249.33 327.98L246.47 329.62M249.33 329.62L246.47 327.98M251.3 327.15L251.3 330.45M252.73 327.98L249.87 329.62M252.73 329.62L249.87 327.98M254.7 327.15L254.7 330.45M256.13 327.98L253.27 329.62M256.13 329.62L253.27 327.98M258.1 327.15L258.1 330.45M259.53 327.98L256.67 329.62M259.53 329.62L256.67 327.98" stroke="#1a1a1a" stroke-width="1.05" fill="none"/>
<polyline points="214.5,344.6 214.5,340.5 323.5,340.5 323.5,344.6" fill="none" stroke="#7a7a7a" stroke-width="1" stroke-linejoin="miter"/>
<path d="M260.5 335.35L260.5 338.65M261.93 336.18L259.07 337.82M261.93 337.82L259.07 336.18M263.9 335.35L263.9 338.65M265.33 336.18L262.47 337.82M265.33 337.82L262.47 336.18" stroke="#1a1a1a" stroke-width="1.05" fill="none"/>
<polyline points="214.5,351.7 214.5,347.5 276.5,347.5 276.5,351.7" fill="none" stroke="#7a7a7a" stroke-width="1" stroke-linejoin="miter"/>
<path d="M242.1 342.65L242.1 345.95M243.53 343.48L240.67 345.12M243.53 345.12L240.67 343.48M245.5 342.65L245.5 345.95M246.93 343.48L244.07 345.12M246.93 345.12L244.07 343.48" stroke="#1a1a1a" stroke-width="1.05" fill="none"/>
<polyline points="246.5,360.7 246.5,356.5 276.5,356.5 276.5,360.7" fill="none" stroke="#7a7a7a" stroke-width="1" stroke-linejoin="miter"/>
<path d="M256.1 352.35L256.1 355.65M257.53 353.18L254.67 354.82M257.53 354.82L254.67 353.18M259.5 352.35L259.5 355.65M260.93 353.18L258.07 354.82M260.93 354.82L258.07 353.18M262.9 352.35L262.9 355.65M264.33 353.18L261.47 354.82M264.33 354.82L261.47 353.18M266.3 352.35L266.3 355.65M267.73 353.18L264.87 354.82M267.73 354.82L264.87 353.18" stroke="#1a1a1a" stroke-width="1.05" fill="none"/>
<polyline points="306.5,360.9 306.5,356.5 324.5,356.5 324.5,360.9" fill="none" stroke="#7a7a7a" stroke-width="1" stroke-linejoin="miter"/>
<path d="M310.3 351.25L310.3 354.55M311.73 352.07L308.87 353.72M311.73 353.72L308.87 352.07M313.7 351.25L313.7 354.55M315.13 352.07L312.27 353.72M315.13 353.72L312.27 352.07M317.1 351.25L317.1 354.55M318.53 352.07L315.67 353.72M318.53 353.72L315.67 352.07M320.5 351.25L320.5 354.55M321.93 352.07L319.07 353.72M321.93 353.72L319.07 352.07" stroke="#1a1a1a" stroke-width="1.05" fill="none"/>
<circle cx="217.5" cy="388.7" r="1.9" fill="#111"/>
<circle cx="217.5" cy="400.4" r="1.9" fill="#111"/>
<line x1="212.8" y1="394.6" x2="222.6" y2="394.6" stroke="#666" stroke-width="1.3" stroke-linecap="butt"/>
<circle cx="229.9" cy="364.5" r="1.9" fill="#111"/>
<circle cx="232.4" cy="367.3" r="1.9" fill="#111"/>
<circle cx="235.2" cy="367.3" r="1.9" fill="#111"/>
<line x1="228" y1="367.6" x2="237.5" y2="367.6" stroke="#222" stroke-width="1.3" stroke-linecap="butt"/>
<circle cx="247.7" cy="367.3" r="1.9" fill="#111"/>
<circle cx="245.6" cy="377.7" r="1.9" fill="#111"/>
<circle cx="250" cy="381.3" r="1.9" fill="#111"/>
<circle cx="245.2" cy="401.4" r="1.9" fill="#111"/>
<circle cx="250" cy="401.4" r="1.9" fill="#111"/>
<line x1="242.8" y1="385.9" x2="252.6" y2="385.9" stroke="#666" stroke-width="1.3" stroke-linecap="butt"/>
<circle cx="263.2" cy="374.4" r="1.9" fill="#111"/>
<circle cx="260.4" cy="381.3" r="1.9" fill="#111"/>
<circle cx="265.3" cy="381.3" r="1.9" fill="#111"/>
<circle cx="263.2" cy="394.8" r="1.9" fill="#111"/>
<circle cx="263.2" cy="401.4" r="1.9" fill="#111"/>
<line x1="258" y1="386.3" x2="268" y2="386.3" stroke="#666" stroke-width="1.3" stroke-linecap="butt"/>
<circle cx="278" cy="418.4" r="1.9" fill="#111"/>
<circle cx="275.3" cy="427.4" r="1.9" fill="#111"/>
<circle cx="278.1" cy="427.4" r="1.9" fill="#111"/>
<circle cx="280.8" cy="427.4" r="1.9" fill="#111"/>
<line x1="274.4" y1="427.6" x2="281.8" y2="427.6" stroke="#222" stroke-width="1.5" stroke-linecap="butt"/>
<circle cx="293.2" cy="364.5" r="1.9" fill="#111"/>
<circle cx="290.7" cy="374.7" r="1.9" fill="#111"/>
<circle cx="295.6" cy="374.7" r="1.9" fill="#111"/>
<circle cx="293.2" cy="401.6" r="1.9" fill="#111"/>
<line x1="288.2" y1="378.9" x2="298.1" y2="378.9" stroke="#666" stroke-width="1.3" stroke-linecap="butt"/>
<circle cx="308.3" cy="364.5" r="1.9" fill="#111"/>
<circle cx="305.8" cy="377.7" r="1.9" fill="#111"/>
<circle cx="310.9" cy="377.7" r="1.9" fill="#111"/>
<circle cx="310.8" cy="388.2" r="1.9" fill="#111"/>
<circle cx="305.8" cy="391.2" r="1.9" fill="#111"/>
<line x1="303.4" y1="380.5" x2="313.7" y2="380.5" stroke="#666" stroke-width="1.3" stroke-linecap="butt"/>
<circle cx="320.6" cy="428.2" r="1.9" fill="#111"/>
<circle cx="323.6" cy="428.2" r="1.9" fill="#111"/>
<circle cx="326.6" cy="428.2" r="1.9" fill="#111"/>
<line x1="319.2" y1="428.4" x2="328.5" y2="428.4" stroke="#222" stroke-width="1.5" stroke-linecap="butt"/>
<text transform="translate(214.2 450.88) scale(1 1)" font-size="8" text-anchor="end" fill="#222" stroke="#222" stroke-width="0.06">rHA</text>
<line x1="215.9" y1="448" x2="218.9" y2="448" stroke="#222" stroke-width="1" stroke-linecap="butt"/>
<line x1="229.61" y1="448" x2="235.41" y2="448" stroke="#222" stroke-width="1.1" stroke-linecap="butt"/>
<line x1="232.51" y1="445.1" x2="232.51" y2="450.9" stroke="#222" stroke-width="1.1" stroke-linecap="butt"/>
<line x1="244.72" y1="448" x2="250.52" y2="448" stroke="#222" stroke-width="1.1" stroke-linecap="butt"/>
<line x1="247.62" y1="445.1" x2="247.62" y2="450.9" stroke="#222" stroke-width="1.1" stroke-linecap="butt"/>
<line x1="259.83" y1="448" x2="265.63" y2="448" stroke="#222" stroke-width="1.1" stroke-linecap="butt"/>
<line x1="262.73" y1="445.1" x2="262.73" y2="450.9" stroke="#222" stroke-width="1.1" stroke-linecap="butt"/>
<line x1="274.94" y1="448" x2="280.74" y2="448" stroke="#222" stroke-width="1.1" stroke-linecap="butt"/>
<line x1="277.84" y1="445.1" x2="277.84" y2="450.9" stroke="#222" stroke-width="1.1" stroke-linecap="butt"/>
<line x1="291.45" y1="448" x2="294.45" y2="448" stroke="#222" stroke-width="1" stroke-linecap="butt"/>
<line x1="305.16" y1="448" x2="310.96" y2="448" stroke="#222" stroke-width="1.1" stroke-linecap="butt"/>
<line x1="308.06" y1="445.1" x2="308.06" y2="450.9" stroke="#222" stroke-width="1.1" stroke-linecap="butt"/>
<line x1="320.27" y1="448" x2="326.07" y2="448" stroke="#222" stroke-width="1.1" stroke-linecap="butt"/>
<line x1="323.17" y1="445.1" x2="323.17" y2="450.9" stroke="#222" stroke-width="1.1" stroke-linecap="butt"/>
<text transform="translate(214.2 460.48) scale(1 1)" font-size="8" text-anchor="end" fill="#222" stroke="#222" stroke-width="0.06">R848</text>
<line x1="215.9" y1="457.6" x2="218.9" y2="457.6" stroke="#222" stroke-width="1" stroke-linecap="butt"/>
<line x1="231.01" y1="457.6" x2="234.01" y2="457.6" stroke="#222" stroke-width="1" stroke-linecap="butt"/>
<line x1="246.12" y1="457.6" x2="249.12" y2="457.6" stroke="#222" stroke-width="1" stroke-linecap="butt"/>
<line x1="259.83" y1="457.6" x2="265.63" y2="457.6" stroke="#222" stroke-width="1.1" stroke-linecap="butt"/>
<line x1="262.73" y1="454.7" x2="262.73" y2="460.5" stroke="#222" stroke-width="1.1" stroke-linecap="butt"/>
<line x1="276.34" y1="457.6" x2="279.34" y2="457.6" stroke="#222" stroke-width="1" stroke-linecap="butt"/>
<line x1="291.45" y1="457.6" x2="294.45" y2="457.6" stroke="#222" stroke-width="1" stroke-linecap="butt"/>
<line x1="306.56" y1="457.6" x2="309.56" y2="457.6" stroke="#222" stroke-width="1" stroke-linecap="butt"/>
<line x1="321.67" y1="457.6" x2="324.67" y2="457.6" stroke="#222" stroke-width="1" stroke-linecap="butt"/>
<text transform="translate(214.2 470.28) scale(1 1)" font-size="8" text-anchor="end" fill="#222" stroke="#222" stroke-width="0.06">3M-052</text>
<line x1="215.9" y1="467.4" x2="218.9" y2="467.4" stroke="#222" stroke-width="1" stroke-linecap="butt"/>
<line x1="231.01" y1="467.4" x2="234.01" y2="467.4" stroke="#222" stroke-width="1" stroke-linecap="butt"/>
<line x1="246.12" y1="467.4" x2="249.12" y2="467.4" stroke="#222" stroke-width="1" stroke-linecap="butt"/>
<line x1="261.23" y1="467.4" x2="264.23" y2="467.4" stroke="#222" stroke-width="1" stroke-linecap="butt"/>
<line x1="274.94" y1="467.4" x2="280.74" y2="467.4" stroke="#222" stroke-width="1.1" stroke-linecap="butt"/>
<line x1="277.84" y1="464.5" x2="277.84" y2="470.3" stroke="#222" stroke-width="1.1" stroke-linecap="butt"/>
<line x1="290.05" y1="467.4" x2="295.85" y2="467.4" stroke="#222" stroke-width="1.1" stroke-linecap="butt"/>
<line x1="292.95" y1="464.5" x2="292.95" y2="470.3" stroke="#222" stroke-width="1.1" stroke-linecap="butt"/>
<line x1="306.56" y1="467.4" x2="309.56" y2="467.4" stroke="#222" stroke-width="1" stroke-linecap="butt"/>
<line x1="320.27" y1="467.4" x2="326.07" y2="467.4" stroke="#222" stroke-width="1.1" stroke-linecap="butt"/>
<line x1="323.17" y1="464.5" x2="323.17" y2="470.3" stroke="#222" stroke-width="1.1" stroke-linecap="butt"/>
<line x1="212" y1="474.3" x2="235.7" y2="474.3" stroke="#8a8a8a" stroke-width="1.4" stroke-linecap="butt"/>
<line x1="242" y1="474.3" x2="294.1" y2="474.3" stroke="#8a8a8a" stroke-width="1.4" stroke-linecap="butt"/>
<line x1="302.8" y1="474.3" x2="326.4" y2="474.3" stroke="#8a8a8a" stroke-width="1.4" stroke-linecap="butt"/>
<text x="223.5" y="482.57" font-size="8.8" text-anchor="middle" font-weight="normal" fill="#222" stroke="#222" stroke-width="0">Aqueous</text>
<text x="268.3" y="482.57" font-size="8.8" text-anchor="middle" font-weight="normal" fill="#222" stroke="#222" stroke-width="0">Emulsion</text>
<text x="316.8" y="482.57" font-size="8.8" text-anchor="middle" font-weight="normal" fill="#222" stroke="#222" stroke-width="0">Liposome</text>
<text x="354.6" y="317.2" font-size="10.6" text-anchor="start" font-weight="bold" fill="#111" stroke="#111" stroke-width="0.3" letter-spacing="2.0">F)</text>
<line x1="387" y1="357.4" x2="387" y2="439.7" stroke="#6f6f6f" stroke-width="1.5" stroke-linecap="butt"/>
<line x1="386.3" y1="439" x2="506.8" y2="439" stroke="#6f6f6f" stroke-width="1.5" stroke-linecap="butt"/>
<line x1="384.4" y1="433.4" x2="387" y2="433.4" stroke="#222" stroke-width="1" stroke-linecap="butt"/>
<text x="383.7" y="436.6" font-size="8.9" text-anchor="end" font-weight="normal" fill="#222" stroke="#222" stroke-width="0">0.15</text>
<line x1="384.4" y1="408.2" x2="387" y2="408.2" stroke="#222" stroke-width="1" stroke-linecap="butt"/>
<text x="383.7" y="411.4" font-size="8.9" text-anchor="end" font-weight="normal" fill="#222" stroke="#222" stroke-width="0">0.20</text>
<line x1="384.4" y1="383" x2="387" y2="383" stroke="#222" stroke-width="1" stroke-linecap="butt"/>
<text x="383.7" y="386.2" font-size="8.9" text-anchor="end" font-weight="normal" fill="#222" stroke="#222" stroke-width="0">0.25</text>
<line x1="384.4" y1="357.8" x2="387" y2="357.8" stroke="#222" stroke-width="1" stroke-linecap="butt"/>
<text x="383.7" y="361" font-size="8.9" text-anchor="end" font-weight="normal" fill="#222" stroke="#222" stroke-width="0">0.30</text>
<line x1="395.3" y1="439" x2="395.3" y2="441.2" stroke="#222" stroke-width="1" stroke-linecap="butt"/>
<line x1="412.5" y1="439" x2="412.5" y2="441.2" stroke="#222" stroke-width="1" stroke-linecap="butt"/>
<line x1="429.7" y1="439" x2="429.7" y2="441.2" stroke="#222" stroke-width="1" stroke-linecap="butt"/>
<line x1="446.9" y1="439" x2="446.9" y2="441.2" stroke="#222" stroke-width="1" stroke-linecap="butt"/>
<line x1="464.1" y1="439" x2="464.1" y2="441.2" stroke="#222" stroke-width="1" stroke-linecap="butt"/>
<line x1="481.3" y1="439" x2="481.3" y2="441.2" stroke="#222" stroke-width="1" stroke-linecap="butt"/>
<line x1="498.5" y1="439" x2="498.5" y2="441.2" stroke="#222" stroke-width="1" stroke-linecap="butt"/>
<text x="359.6" y="397.5" font-size="8.8" text-anchor="middle" font-weight="normal" fill="#222" stroke="#222" stroke-width="0" transform="rotate(-90 359.6 397.5)">D7 Lung Weight (g)</text>
<polyline points="412.5,326.5 412.5,322.5 500.5,322.5 500.5,326.5" fill="none" stroke="#7a7a7a" stroke-width="1" stroke-linejoin="miter"/>
<path d="M453.8 317.45L453.8 320.75M455.23 318.28L452.37 319.93M455.23 319.93L452.37 318.28M457.2 317.45L457.2 320.75M458.63 318.28L455.77 319.93M458.63 319.93L455.77 318.28M460.6 317.45L460.6 320.75M462.03 318.28L459.17 319.93M462.03 319.93L459.17 318.28M464 317.45L464 320.75M465.43 318.28L462.57 319.93M465.43 319.93L462.57 318.28" stroke="#1a1a1a" stroke-width="1.05" fill="none"/>
<polyline points="412.5,335.5 412.5,331.5 465.5,331.5 465.5,335.5" fill="none" stroke="#7a7a7a" stroke-width="1" stroke-linejoin="miter"/>
<path d="M431.5 326.55L431.5 329.85M432.93 327.38L430.07 329.02M432.93 329.02L430.07 327.38M434.9 326.55L434.9 329.85M436.33 327.38L433.47 329.02M436.33 329.02L433.47 327.38M438.3 326.55L438.3 329.85M439.73 327.38L436.87 329.02M439.73 329.02L436.87 327.38M441.7 326.55L441.7 329.85M443.13 327.38L440.27 329.02M443.13 329.02L440.27 327.38" stroke="#1a1a1a" stroke-width="1.05" fill="none"/>
<polyline points="428.5,343.1 428.5,338.5 465.5,338.5 465.5,343.1" fill="none" stroke="#7a7a7a" stroke-width="1" stroke-linejoin="miter"/>
<path d="M438.7 334.85L438.7 338.15M440.13 335.68L437.27 337.32M440.13 337.32L437.27 335.68M442.1 334.85L442.1 338.15M443.53 335.68L440.67 337.32M443.53 337.32L440.67 335.68M445.5 334.85L445.5 338.15M446.93 335.68L444.07 337.32M446.93 337.32L444.07 335.68M448.9 334.85L448.9 338.15M450.33 335.68L447.47 337.32M450.33 337.32L447.47 335.68" stroke="#1a1a1a" stroke-width="1.05" fill="none"/>
<polyline points="448.5,354.1 448.5,349.5 465.5,349.5 465.5,354.1" fill="none" stroke="#7a7a7a" stroke-width="1" stroke-linejoin="miter"/>
<path d="M451.4 344.45L451.4 347.75M452.83 345.28L449.97 346.93M452.83 346.93L449.97 345.28M454.8 344.45L454.8 347.75M456.23 345.28L453.37 346.93M456.23 346.93L453.37 345.28M458.2 344.45L458.2 347.75M459.63 345.28L456.77 346.93M459.63 346.93L456.77 345.28M461.6 344.45L461.6 347.75M463.03 345.28L460.17 346.93M463.03 346.93L460.17 345.28" stroke="#1a1a1a" stroke-width="1.05" fill="none"/>
<polyline points="482.5,363.4 482.5,358.5 500.5,358.5 500.5,363.4" fill="none" stroke="#7a7a7a" stroke-width="1" stroke-linejoin="miter"/>
<path d="M490.1 353.65L490.1 356.95M491.53 354.48L488.67 356.12M491.53 356.12L488.67 354.48M493.5 353.65L493.5 356.95M494.93 354.48L492.07 356.12M494.93 356.12L492.07 354.48" stroke="#1a1a1a" stroke-width="1.05" fill="none"/>
<circle cx="395.4" cy="398.2" r="2.8" fill="#111"/>
<circle cx="395.4" cy="403.3" r="2.8" fill="#111"/>
<circle cx="412.6" cy="358.3" r="2.6" fill="#fff" stroke="#111" stroke-width="1"/>
<circle cx="412.6" cy="368.5" r="2.6" fill="#fff" stroke="#111" stroke-width="1"/>
<circle cx="412.6" cy="378.7" r="2.6" fill="#fff" stroke="#111" stroke-width="1"/>
<line x1="409.6" y1="368.5" x2="415.6" y2="368.5" stroke="#111" stroke-width="1" stroke-linecap="butt"/>
<polygon points="430.2,355.51 427.1,361.39 433.3,361.39" fill="#fff" stroke="#111" stroke-width="1" stroke-linejoin="miter"/>
<line x1="426.5" y1="366.3" x2="433.9" y2="366.3" stroke="#111" stroke-width="1.1" stroke-linecap="butt"/>
<polygon points="427.5,375.81 424.4,381.69 430.6,381.69" fill="#fff" stroke="#111" stroke-width="1" stroke-linejoin="miter"/>
<polygon points="434,375.81 430.9,381.69 437.1,381.69" fill="#fff" stroke="#111" stroke-width="1" stroke-linejoin="miter"/>
<polygon points="445.4,355.3 448.4,358.3 445.4,361.3 442.4,358.3" fill="#111"/>
<polygon points="451.5,355.3 454.5,358.3 451.5,361.3 448.5,358.3" fill="#111"/>
<polygon points="447.4,365.1 450.4,368.1 447.4,371.1 444.4,368.1" fill="#111"/>
<polygon points="451.5,375.7 454.5,378.7 451.5,381.7 448.5,378.7" fill="#111"/>
<polygon points="445.4,380.9 448.4,383.9 445.4,386.9 442.4,383.9" fill="#111"/>
<line x1="443.5" y1="368.1" x2="451.5" y2="368.1" stroke="#111" stroke-width="1" stroke-linecap="butt"/>
<polygon points="462.6,391.3 459.6,397 465.6,397" fill="#111"/>
<polygon points="468.5,391.3 465.5,397 471.5,397" fill="#111"/>
<polygon points="464.4,411.1 461.4,416.8 467.4,416.8" fill="#111"/>
<polygon points="462.6,421.3 459.6,427 465.6,427" fill="#111"/>
<polygon points="468.5,421.3 465.5,427 471.5,427" fill="#111"/>
<line x1="461.1" y1="409.6" x2="468.1" y2="409.6" stroke="#111" stroke-width="1.1" stroke-linecap="butt"/>
<rect x="480.5" y="376.2" width="5" height="5" fill="#fff" stroke="#111" stroke-width="1"/>
<rect x="480.5" y="381.8" width="5" height="5" fill="#fff" stroke="#111" stroke-width="1"/>
<rect x="477.7" y="396" width="5" height="5" fill="#fff" stroke="#111" stroke-width="1"/>
<rect x="483.2" y="396" width="5" height="5" fill="#fff" stroke="#111" stroke-width="1"/>
<line x1="480.2" y1="387.2" x2="485.8" y2="387.2" stroke="#111" stroke-width="1" stroke-linecap="butt"/>
<rect x="491.7" y="400.8" width="5.8" height="5.8" fill="#111"/>
<rect x="497.7" y="406" width="5.8" height="5.8" fill="#111"/>
<rect x="500.4" y="420.8" width="5.8" height="5.8" fill="#111"/>
<rect x="494" y="426.4" width="5.8" height="5.8" fill="#111"/>
<line x1="495.9" y1="416.1" x2="502.4" y2="416.1" stroke="#111" stroke-width="1.1" stroke-linecap="butt"/>
<text transform="translate(391.3 449.65) scale(1.11 1)" font-size="8.2" text-anchor="end" fill="#222" stroke="#222" stroke-width="0.06">rHA</text>
<line x1="393.8" y1="446.7" x2="396.8" y2="446.7" stroke="#222" stroke-width="1" stroke-linecap="butt"/>
<line x1="409.6" y1="446.7" x2="415.4" y2="446.7" stroke="#222" stroke-width="1.1" stroke-linecap="butt"/>
<line x1="412.5" y1="443.8" x2="412.5" y2="449.6" stroke="#222" stroke-width="1.1" stroke-linecap="butt"/>
<line x1="426.8" y1="446.7" x2="432.6" y2="446.7" stroke="#222" stroke-width="1.1" stroke-linecap="butt"/>
<line x1="429.7" y1="443.8" x2="429.7" y2="449.6" stroke="#222" stroke-width="1.1" stroke-linecap="butt"/>
<line x1="444" y1="446.7" x2="449.8" y2="446.7" stroke="#222" stroke-width="1.1" stroke-linecap="butt"/>
<line x1="446.9" y1="443.8" x2="446.9" y2="449.6" stroke="#222" stroke-width="1.1" stroke-linecap="butt"/>
<line x1="461.2" y1="446.7" x2="467" y2="446.7" stroke="#222" stroke-width="1.1" stroke-linecap="butt"/>
<line x1="464.1" y1="443.8" x2="464.1" y2="449.6" stroke="#222" stroke-width="1.1" stroke-linecap="butt"/>
<line x1="478.4" y1="446.7" x2="484.2" y2="446.7" stroke="#222" stroke-width="1.1" stroke-linecap="butt"/>
<line x1="481.3" y1="443.8" x2="481.3" y2="449.6" stroke="#222" stroke-width="1.1" stroke-linecap="butt"/>
<line x1="495.6" y1="446.7" x2="501.4" y2="446.7" stroke="#222" stroke-width="1.1" stroke-linecap="butt"/>
<line x1="498.5" y1="443.8" x2="498.5" y2="449.6" stroke="#222" stroke-width="1.1" stroke-linecap="butt"/>
<text transform="translate(391.3 458.85) scale(1.11 1)" font-size="8.2" text-anchor="end" fill="#222" stroke="#222" stroke-width="0.06">R848</text>
<line x1="393.8" y1="455.9" x2="396.8" y2="455.9" stroke="#222" stroke-width="1" stroke-linecap="butt"/>
<line x1="411" y1="455.9" x2="414" y2="455.9" stroke="#222" stroke-width="1" stroke-linecap="butt"/>
<line x1="428.2" y1="455.9" x2="431.2" y2="455.9" stroke="#222" stroke-width="1" stroke-linecap="butt"/>
<line x1="444" y1="455.9" x2="449.8" y2="455.9" stroke="#222" stroke-width="1.1" stroke-linecap="butt"/>
<line x1="446.9" y1="453" x2="446.9" y2="458.8" stroke="#222" stroke-width="1.1" stroke-linecap="butt"/>
<line x1="462.6" y1="455.9" x2="465.6" y2="455.9" stroke="#222" stroke-width="1" stroke-linecap="butt"/>
<line x1="479.8" y1="455.9" x2="482.8" y2="455.9" stroke="#222" stroke-width="1" stroke-linecap="butt"/>
<line x1="497" y1="455.9" x2="500" y2="455.9" stroke="#222" stroke-width="1" stroke-linecap="butt"/>
<text transform="translate(391.3 468.35) scale(1.11 1)" font-size="8.2" text-anchor="end" fill="#222" stroke="#222" stroke-width="0.06">3M-052</text>
<line x1="393.8" y1="465.4" x2="396.8" y2="465.4" stroke="#222" stroke-width="1" stroke-linecap="butt"/>
<line x1="411" y1="465.4" x2="414" y2="465.4" stroke="#222" stroke-width="1" stroke-linecap="butt"/>
<line x1="428.2" y1="465.4" x2="431.2" y2="465.4" stroke="#222" stroke-width="1" stroke-linecap="butt"/>
<line x1="445.4" y1="465.4" x2="448.4" y2="465.4" stroke="#222" stroke-width="1" stroke-linecap="butt"/>
<line x1="461.2" y1="465.4" x2="467" y2="465.4" stroke="#222" stroke-width="1.1" stroke-linecap="butt"/>
<line x1="464.1" y1="462.5" x2="464.1" y2="468.3" stroke="#222" stroke-width="1.1" stroke-linecap="butt"/>
<line x1="479.8" y1="465.4" x2="482.8" y2="465.4" stroke="#222" stroke-width="1" stroke-linecap="butt"/>
<line x1="495.6" y1="465.4" x2="501.4" y2="465.4" stroke="#222" stroke-width="1.1" stroke-linecap="butt"/>
<line x1="498.5" y1="462.5" x2="498.5" y2="468.3" stroke="#222" stroke-width="1.1" stroke-linecap="butt"/>
<line x1="389.5" y1="473.1" x2="413.2" y2="473.1" stroke="#8a8a8a" stroke-width="1.4" stroke-linecap="butt"/>
<line x1="424.6" y1="473.1" x2="473" y2="473.1" stroke="#8a8a8a" stroke-width="1.4" stroke-linecap="butt"/>
<line x1="477.7" y1="473.1" x2="506.8" y2="473.1" stroke="#8a8a8a" stroke-width="1.4" stroke-linecap="butt"/>
<text x="401.1" y="482.17" font-size="8.8" text-anchor="middle" font-weight="normal" fill="#222" stroke="#222" stroke-width="0">Aqueous</text>
<text x="448" y="482.17" font-size="8.8" text-anchor="middle" font-weight="normal" fill="#222" stroke="#222" stroke-width="0">Emulsion</text>
<text x="491.5" y="482.17" font-size="8.8" text-anchor="middle" font-weight="normal" fill="#222" stroke="#222" stroke-width="0">Liposome</text>
<text x="530.4" y="317.7" font-size="10.6" text-anchor="start" font-weight="bold" fill="#111" stroke="#111" stroke-width="0.3" letter-spacing="2.0">G)</text>
<line x1="558.3" y1="358.6" x2="558.3" y2="439.9" stroke="#333" stroke-width="1.3" stroke-linecap="butt"/>
<line x1="557.7" y1="439.3" x2="678.8" y2="439.3" stroke="#222" stroke-width="1.3" stroke-linecap="butt"/>
<line x1="555.7" y1="439.2" x2="558.3" y2="439.2" stroke="#222" stroke-width="1" stroke-linecap="butt"/>
<text x="553.2" y="442.51" font-size="9.2" text-anchor="end" font-weight="normal" fill="#222" stroke="#222" stroke-width="0">0</text>
<line x1="555.7" y1="419.2" x2="558.3" y2="419.2" stroke="#222" stroke-width="1" stroke-linecap="butt"/>
<text x="553.2" y="422.51" font-size="9.2" text-anchor="end" font-weight="normal" fill="#222" stroke="#222" stroke-width="0">1</text>
<line x1="555.7" y1="399.2" x2="558.3" y2="399.2" stroke="#222" stroke-width="1" stroke-linecap="butt"/>
<text x="553.2" y="402.51" font-size="9.2" text-anchor="end" font-weight="normal" fill="#222" stroke="#222" stroke-width="0">2</text>
<line x1="555.7" y1="379.2" x2="558.3" y2="379.2" stroke="#222" stroke-width="1" stroke-linecap="butt"/>
<text x="553.2" y="382.51" font-size="9.2" text-anchor="end" font-weight="normal" fill="#222" stroke="#222" stroke-width="0">3</text>
<line x1="555.7" y1="359.2" x2="558.3" y2="359.2" stroke="#222" stroke-width="1" stroke-linecap="butt"/>
<text x="553.2" y="362.51" font-size="9.2" text-anchor="end" font-weight="normal" fill="#222" stroke="#222" stroke-width="0">4</text>
<line x1="567.1" y1="439.3" x2="567.1" y2="441.5" stroke="#222" stroke-width="1" stroke-linecap="butt"/>
<line x1="584.5" y1="439.3" x2="584.5" y2="441.5" stroke="#222" stroke-width="1" stroke-linecap="butt"/>
<line x1="601.4" y1="439.3" x2="601.4" y2="441.5" stroke="#222" stroke-width="1" stroke-linecap="butt"/>
<line x1="618.7" y1="439.3" x2="618.7" y2="441.5" stroke="#222" stroke-width="1" stroke-linecap="butt"/>
<line x1="636" y1="439.3" x2="636" y2="441.5" stroke="#222" stroke-width="1" stroke-linecap="butt"/>
<line x1="653.3" y1="439.3" x2="653.3" y2="441.5" stroke="#222" stroke-width="1" stroke-linecap="butt"/>
<line x1="670.4" y1="439.3" x2="670.4" y2="441.5" stroke="#222" stroke-width="1" stroke-linecap="butt"/>
<text x="539.9" y="395.9" font-size="8.8" text-anchor="middle" font-weight="normal" fill="#222" stroke="#222" stroke-width="0" transform="rotate(-90 539.9 395.9)">D7 Lung Score</text>
<circle cx="567" cy="399.8" r="2.7" fill="#111"/>
<circle cx="563.4" cy="409.3" r="2.7" fill="#111"/>
<circle cx="570.3" cy="409.3" r="2.7" fill="#111"/>
<line x1="561.4" y1="405.9" x2="573.1" y2="405.9" stroke="#111" stroke-width="1.1" stroke-linecap="butt"/>
<circle cx="584.3" cy="379.2" r="2.5" fill="#fff" stroke="#111" stroke-width="1"/>
<circle cx="584.3" cy="399.2" r="2.5" fill="#fff" stroke="#111" stroke-width="1"/>
<circle cx="584.3" cy="409.2" r="2.5" fill="#fff" stroke="#111" stroke-width="1"/>
<line x1="578.7" y1="395.3" x2="589.9" y2="395.3" stroke="#111" stroke-width="1.1" stroke-linecap="butt"/>
<polygon points="601.2,376.5 598.2,382.2 604.2,382.2" fill="#fff" stroke="#111" stroke-width="1" stroke-linejoin="miter"/>
<polygon points="601.2,386.7 598.2,392.4 604.2,392.4" fill="#fff" stroke="#111" stroke-width="1" stroke-linejoin="miter"/>
<polygon points="598.6,396.6 595.6,402.3 601.6,402.3" fill="#fff" stroke="#111" stroke-width="1" stroke-linejoin="miter"/>
<polygon points="604,396.6 601,402.3 607,402.3" fill="#fff" stroke="#111" stroke-width="1" stroke-linejoin="miter"/>
<polygon points="601.2,436.4 598.2,442.1 604.2,442.1" fill="#fff" stroke="#111" stroke-width="1" stroke-linejoin="miter"/>
<polygon points="618.3,396.6 620.9,399.2 618.3,401.8 615.7,399.2" fill="#111"/>
<polygon points="618.3,406.5 620.9,409.1 618.3,411.7 615.7,409.1" fill="#111"/>
<polygon points="618.3,416.4 620.9,419 618.3,421.6 615.7,419" fill="#111"/>
<polygon points="618.3,426.6 620.9,429.2 618.3,431.8 615.7,429.2" fill="#111"/>
<polygon points="618.3,436.8 620.9,439.4 618.3,442 615.7,439.4" fill="#111"/>
<line x1="613" y1="419" x2="623.8" y2="419" stroke="#111" stroke-width="1.1" stroke-linecap="butt"/>
<polygon points="632.8,427 629.8,432.7 635.8,432.7" fill="#111"/>
<polygon points="638.1,427 635.1,432.7 641.1,432.7" fill="#111"/>
<polygon points="632.8,436 629.8,441.7 635.8,441.7" fill="#111"/>
<polygon points="638.1,436 635.1,441.7 641.1,441.7" fill="#111"/>
<line x1="630" y1="435.5" x2="641" y2="435.5" stroke="#111" stroke-width="1.1" stroke-linecap="butt"/>
<rect x="650.1" y="396.7" width="5" height="5" fill="#fff" stroke="#111" stroke-width="1"/>
<rect x="650.1" y="406.6" width="5" height="5" fill="#fff" stroke="#111" stroke-width="1"/>
<rect x="647.6" y="416.8" width="5" height="5" fill="#fff" stroke="#111" stroke-width="1"/>
<rect x="653" y="416.8" width="5" height="5" fill="#fff" stroke="#111" stroke-width="1"/>
<rect x="650.1" y="436.9" width="5" height="5" fill="#fff" stroke="#111" stroke-width="1"/>
<rect x="666.8" y="426.5" width="6" height="6" fill="#111"/>
<rect x="664" y="436.5" width="6" height="6" fill="#111"/>
<rect x="669.5" y="436.5" width="6" height="6" fill="#111"/>
<line x1="664.4" y1="437.4" x2="675.3" y2="437.4" stroke="#111" stroke-width="1.1" stroke-linecap="butt"/>
<text transform="translate(563.2 450.75) scale(1.11 1)" font-size="8.2" text-anchor="end" fill="#222" stroke="#222" stroke-width="0.06">rHA</text>
<line x1="565.6" y1="447.8" x2="568.6" y2="447.8" stroke="#222" stroke-width="1" stroke-linecap="butt"/>
<line x1="581.6" y1="447.8" x2="587.4" y2="447.8" stroke="#222" stroke-width="1.1" stroke-linecap="butt"/>
<line x1="584.5" y1="444.9" x2="584.5" y2="450.7" stroke="#222" stroke-width="1.1" stroke-linecap="butt"/>
<line x1="598.5" y1="447.8" x2="604.3" y2="447.8" stroke="#222" stroke-width="1.1" stroke-linecap="butt"/>
<line x1="601.4" y1="444.9" x2="601.4" y2="450.7" stroke="#222" stroke-width="1.1" stroke-linecap="butt"/>
<line x1="615.8" y1="447.8" x2="621.6" y2="447.8" stroke="#222" stroke-width="1.1" stroke-linecap="butt"/>
<line x1="618.7" y1="444.9" x2="618.7" y2="450.7" stroke="#222" stroke-width="1.1" stroke-linecap="butt"/>
<line x1="633.1" y1="447.8" x2="638.9" y2="447.8" stroke="#222" stroke-width="1.1" stroke-linecap="butt"/>
<line x1="636" y1="444.9" x2="636" y2="450.7" stroke="#222" stroke-width="1.1" stroke-linecap="butt"/>
<line x1="650.4" y1="447.8" x2="656.2" y2="447.8" stroke="#222" stroke-width="1.1" stroke-linecap="butt"/>
<line x1="653.3" y1="444.9" x2="653.3" y2="450.7" stroke="#222" stroke-width="1.1" stroke-linecap="butt"/>
<line x1="667.5" y1="447.8" x2="673.3" y2="447.8" stroke="#222" stroke-width="1.1" stroke-linecap="butt"/>
<line x1="670.4" y1="444.9" x2="670.4" y2="450.7" stroke="#222" stroke-width="1.1" stroke-linecap="butt"/>
<text transform="translate(563.2 459.95) scale(1.11 1)" font-size="8.2" text-anchor="end" fill="#222" stroke="#222" stroke-width="0.06">R848</text>
<line x1="565.6" y1="457" x2="568.6" y2="457" stroke="#222" stroke-width="1" stroke-linecap="butt"/>
<line x1="583" y1="457" x2="586" y2="457" stroke="#222" stroke-width="1" stroke-linecap="butt"/>
<line x1="599.9" y1="457" x2="602.9" y2="457" stroke="#222" stroke-width="1" stroke-linecap="butt"/>
<line x1="615.8" y1="457" x2="621.6" y2="457" stroke="#222" stroke-width="1.1" stroke-linecap="butt"/>
<line x1="618.7" y1="454.1" x2="618.7" y2="459.9" stroke="#222" stroke-width="1.1" stroke-linecap="butt"/>
<line x1="634.5" y1="457" x2="637.5" y2="457" stroke="#222" stroke-width="1" stroke-linecap="butt"/>
<line x1="651.8" y1="457" x2="654.8" y2="457" stroke="#222" stroke-width="1" stroke-linecap="butt"/>
<line x1="668.9" y1="457" x2="671.9" y2="457" stroke="#222" stroke-width="1" stroke-linecap="butt"/>
<text transform="translate(563.2 469.55) scale(1.11 1)" font-size="8.2" text-anchor="end" fill="#222" stroke="#222" stroke-width="0.06">3M-052</text>
<line x1="565.6" y1="466.6" x2="568.6" y2="466.6" stroke="#222" stroke-width="1" stroke-linecap="butt"/>
<line x1="583" y1="466.6" x2="586" y2="466.6" stroke="#222" stroke-width="1" stroke-linecap="butt"/>
<line x1="599.9" y1="466.6" x2="602.9" y2="466.6" stroke="#222" stroke-width="1" stroke-linecap="butt"/>
<line x1="617.2" y1="466.6" x2="620.2" y2="466.6" stroke="#222" stroke-width="1" stroke-linecap="butt"/>
<line x1="633.1" y1="466.6" x2="638.9" y2="466.6" stroke="#222" stroke-width="1.1" stroke-linecap="butt"/>
<line x1="636" y1="463.7" x2="636" y2="469.5" stroke="#222" stroke-width="1.1" stroke-linecap="butt"/>
<line x1="651.8" y1="466.6" x2="654.8" y2="466.6" stroke="#222" stroke-width="1" stroke-linecap="butt"/>
<line x1="667.5" y1="466.6" x2="673.3" y2="466.6" stroke="#222" stroke-width="1.1" stroke-linecap="butt"/>
<line x1="670.4" y1="463.7" x2="670.4" y2="469.5" stroke="#222" stroke-width="1.1" stroke-linecap="butt"/>
<line x1="561.2" y1="474" x2="585.5" y2="474" stroke="#8a8a8a" stroke-width="1.4" stroke-linecap="butt"/>
<line x1="596.1" y1="474" x2="644.8" y2="474" stroke="#8a8a8a" stroke-width="1.4" stroke-linecap="butt"/>
<line x1="648" y1="474" x2="679.7" y2="474" stroke="#8a8a8a" stroke-width="1.4" stroke-linecap="butt"/>
<text x="573.4" y="482.87" font-size="8.8" text-anchor="middle" font-weight="normal" fill="#222" stroke="#222" stroke-width="0">Aqueous</text>
<text x="620.4" y="482.87" font-size="8.8" text-anchor="middle" font-weight="normal" fill="#222" stroke="#222" stroke-width="0">Emulsion</text>
<text x="664.2" y="482.87" font-size="8.8" text-anchor="middle" font-weight="normal" fill="#222" stroke="#222" stroke-width="0">Liposome</text>
</svg></body></html>
